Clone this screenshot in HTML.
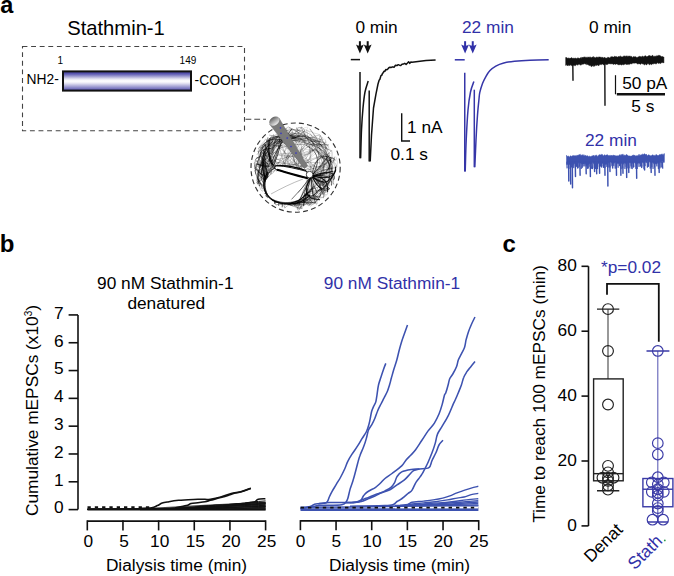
<!DOCTYPE html>
<html><head><meta charset="utf-8"><style>
html,body{margin:0;padding:0;background:#fff;}
svg{display:block;font-family:"Liberation Sans", sans-serif;}
</style></head><body>
<svg width="674" height="576" viewBox="0 0 674 576" font-family='"Liberation Sans", sans-serif'>
<text x="0.3" y="13.4" font-size="23.5" fill="#000" text-anchor="start" font-weight="bold" >a</text>
<text x="67.2" y="35.2" font-size="20.2" fill="#000" text-anchor="start" font-weight="normal" >Stathmin-1</text>
<rect x="22.5" y="46.5" width="222" height="84.3" fill="none" stroke="#444" stroke-width="1.1" stroke-dasharray="4.9 3.7"/>
<defs><linearGradient id="bg" x1="0" y1="0" x2="0" y2="1"><stop offset="0" stop-color="#4d49a8"/><stop offset="0.12" stop-color="#5955b0"/><stop offset="0.4" stop-color="#e6e5f3"/><stop offset="0.5" stop-color="#ffffff"/><stop offset="0.6" stop-color="#ecebf6"/><stop offset="0.86" stop-color="#8784c6"/><stop offset="1" stop-color="#524eab"/></linearGradient><linearGradient id="pg" x1="0" y1="0" x2="1" y2="0"><stop offset="0" stop-color="#5e5e5e"/><stop offset="0.45" stop-color="#8c8c8c"/><stop offset="1" stop-color="#5a5a5a"/></linearGradient><linearGradient id="cap" x1="0" y1="0" x2="0" y2="1"><stop offset="0" stop-color="#606060"/><stop offset="0.5" stop-color="#a8a8a8"/><stop offset="1" stop-color="#ececec"/></linearGradient></defs>
<rect x="63" y="71.4" width="128" height="19.2" fill="url(#bg)" stroke="#111" stroke-width="2"/>
<text x="57.6" y="64.0" font-size="10" fill="#000" text-anchor="start" font-weight="normal" >1</text>
<text x="179.6" y="64.2" font-size="10" fill="#000" text-anchor="start" font-weight="normal" >149</text>
<text x="26.6" y="83.9" font-size="13.8" fill="#000" text-anchor="start" font-weight="normal" >NH2-</text>
<text x="194.6" y="84.9" font-size="13.8" fill="#000" text-anchor="start" font-weight="normal" >-COOH</text>
<path d="M245.5,119.3 H266" stroke="#444" stroke-width="1.1" stroke-dasharray="5.8 3" fill="none"/>
<circle cx="295.6" cy="167.6" r="44.6" fill="none" stroke="#333" stroke-width="1.15" stroke-dasharray="5 3.2"/>
<g><path d="M263.8,177.4 C268.0,164.6 260.8,147.7 272.2,135.5" fill="none" stroke="#000" stroke-width="0.55" stroke-opacity="0.58"/><path d="M324.3,186.9 C330.5,178.8 331.5,168.6 334.5,157.1" fill="none" stroke="#000" stroke-width="0.9" stroke-opacity="0.35"/><path d="M275.2,138.0 C273.8,154.8 271.0,165.3 258.8,181.3" fill="none" stroke="#000" stroke-width="0.45" stroke-opacity="0.71"/><path d="M301.6,133.8 C291.6,133.8 280.7,133.4 271.9,140.2" fill="none" stroke="#000" stroke-width="0.7" stroke-opacity="0.39"/><path d="M264.5,188.2 C279.9,191.5 290.4,196.9 303.0,197.7" fill="none" stroke="#000" stroke-width="0.45" stroke-opacity="0.55"/><path d="M273.7,183.5 C258.0,170.4 270.5,154.6 282.4,144.9" fill="none" stroke="#000" stroke-width="0.45" stroke-opacity="0.74"/><path d="M263.5,173.7 C270.2,156.0 276.8,135.1 299.5,132.8" fill="none" stroke="#000" stroke-width="0.7" stroke-opacity="0.46"/><path d="M281.6,192.0 C297.8,191.7 317.0,193.1 331.8,176.6" fill="none" stroke="#000" stroke-width="0.55" stroke-opacity="0.57"/><path d="M264.7,178.2 C268.5,184.5 265.6,197.4 278.7,194.9" fill="none" stroke="#000" stroke-width="0.7" stroke-opacity="0.55"/><path d="M327.9,167.2 C332.0,161.9 320.5,160.0 331.4,150.6" fill="none" stroke="#000" stroke-width="0.55" stroke-opacity="0.48"/><path d="M258.9,181.7 C270.8,173.4 267.5,170.2 263.5,166.1" fill="none" stroke="#000" stroke-width="0.45" stroke-opacity="0.70"/><path d="M273.1,150.9 C272.0,134.5 287.6,142.1 296.4,132.2" fill="none" stroke="#000" stroke-width="0.55" stroke-opacity="0.40"/><path d="M281.6,202.5 C290.6,203.8 299.4,202.5 305.7,194.3" fill="none" stroke="#000" stroke-width="0.9" stroke-opacity="0.70"/><path d="M315.4,149.6 C328.2,157.2 324.5,171.1 319.0,182.5" fill="none" stroke="#000" stroke-width="0.9" stroke-opacity="0.42"/><path d="M294.3,198.3 C274.4,199.6 272.7,178.6 267.0,164.5" fill="none" stroke="#000" stroke-width="0.45" stroke-opacity="0.62"/><path d="M288.4,204.9 C308.0,197.3 319.7,183.7 322.7,167.2" fill="none" stroke="#000" stroke-width="0.7" stroke-opacity="0.38"/><path d="M276.9,187.8 C284.9,198.8 298.2,198.1 309.4,192.2" fill="none" stroke="#000" stroke-width="0.55" stroke-opacity="0.73"/><path d="M261.3,145.9 C278.5,128.9 299.8,143.5 321.8,141.1" fill="none" stroke="#000" stroke-width="0.9" stroke-opacity="0.42"/><path d="M333.9,184.8 C330.2,172.4 333.9,161.8 320.2,155.9" fill="none" stroke="#000" stroke-width="0.55" stroke-opacity="0.48"/><path d="M302.9,141.2 C314.9,150.9 336.4,162.3 325.5,182.9" fill="none" stroke="#000" stroke-width="0.45" stroke-opacity="0.45"/><path d="M316.6,143.3 C318.6,156.7 321.4,166.9 319.7,177.8" fill="none" stroke="#000" stroke-width="0.7" stroke-opacity="0.30"/><path d="M325.4,139.5 C327.6,159.0 328.0,175.2 323.1,192.5" fill="none" stroke="#000" stroke-width="0.45" stroke-opacity="0.37"/><path d="M284.6,195.2 C288.8,200.8 294.6,203.9 301.3,204.3" fill="none" stroke="#000" stroke-width="0.7" stroke-opacity="0.78"/><path d="M324.9,145.3 C311.2,145.1 307.7,127.3 294.7,138.4" fill="none" stroke="#000" stroke-width="0.9" stroke-opacity="0.36"/><path d="M258.9,168.0 C263.9,159.8 260.2,148.6 274.3,147.7" fill="none" stroke="#000" stroke-width="0.55" stroke-opacity="0.70"/><path d="M273.6,187.1 C266.0,176.9 254.0,162.8 271.6,152.9" fill="none" stroke="#000" stroke-width="0.45" stroke-opacity="0.52"/><path d="M322.0,159.0 C330.9,144.3 322.3,137.0 309.9,137.3" fill="none" stroke="#000" stroke-width="0.9" stroke-opacity="0.30"/><path d="M281.0,140.1 C295.5,138.0 312.4,135.6 328.3,145.9" fill="none" stroke="#000" stroke-width="0.7" stroke-opacity="0.38"/><path d="M262.9,152.0 C268.2,163.2 256.5,172.6 265.9,180.8" fill="none" stroke="#000" stroke-width="0.55" stroke-opacity="0.57"/><path d="M305.2,135.9 C283.8,132.4 263.1,144.0 259.5,168.0" fill="none" stroke="#000" stroke-width="0.55" stroke-opacity="0.61"/><path d="M307.3,203.1 C317.6,194.5 317.1,179.8 333.3,172.9" fill="none" stroke="#000" stroke-width="0.7" stroke-opacity="0.40"/><path d="M264.3,159.6 C256.0,182.1 280.7,188.6 295.6,206.3" fill="none" stroke="#000" stroke-width="0.9" stroke-opacity="0.83"/><path d="M317.5,190.9 C332.9,186.1 335.3,171.7 329.5,158.4" fill="none" stroke="#000" stroke-width="0.9" stroke-opacity="0.54"/><path d="M278.2,200.9 C300.7,204.1 321.9,195.5 334.1,174.5" fill="none" stroke="#000" stroke-width="0.9" stroke-opacity="0.48"/><path d="M325.6,163.9 C317.0,179.1 310.8,198.1 289.2,204.5" fill="none" stroke="#000" stroke-width="0.7" stroke-opacity="0.37"/><path d="M256.9,154.9 C267.6,137.1 288.2,135.9 304.2,139.4" fill="none" stroke="#000" stroke-width="0.7" stroke-opacity="0.30"/><path d="M284.6,141.4 C302.8,129.8 324.1,138.4 329.2,161.0" fill="none" stroke="#000" stroke-width="0.9" stroke-opacity="0.37"/><path d="M266.6,151.9 C255.0,166.7 263.9,182.9 274.9,195.8" fill="none" stroke="#000" stroke-width="0.7" stroke-opacity="0.57"/><path d="M283.9,196.2 C293.3,202.4 303.0,196.1 311.2,191.2" fill="none" stroke="#000" stroke-width="0.9" stroke-opacity="0.63"/><path d="M269.8,161.7 C267.4,148.0 278.0,140.9 287.7,126.8" fill="none" stroke="#000" stroke-width="0.45" stroke-opacity="0.59"/><path d="M254.8,169.9 C259.1,189.0 274.1,201.4 293.0,200.8" fill="none" stroke="#000" stroke-width="0.55" stroke-opacity="0.67"/><path d="M255.8,174.4 C253.3,166.5 261.9,160.0 258.2,150.8" fill="none" stroke="#000" stroke-width="0.9" stroke-opacity="0.51"/><path d="M268.1,142.5 C271.2,163.9 271.1,179.1 274.8,203.7" fill="none" stroke="#000" stroke-width="0.7" stroke-opacity="0.51"/><path d="M283.5,192.5 C277.4,186.8 265.6,184.1 258.5,174.5" fill="none" stroke="#000" stroke-width="0.55" stroke-opacity="0.62"/><path d="M286.0,137.1 C269.1,145.4 268.6,164.0 266.3,181.9" fill="none" stroke="#000" stroke-width="0.55" stroke-opacity="0.49"/><path d="M266.4,162.1 C258.1,182.0 270.1,201.1 292.6,205.3" fill="none" stroke="#000" stroke-width="0.7" stroke-opacity="0.64"/><path d="M326.7,142.1 C313.1,144.8 311.6,132.5 301.0,140.0" fill="none" stroke="#000" stroke-width="0.45" stroke-opacity="0.30"/><path d="M268.8,179.2 C274.3,201.4 296.5,193.5 317.4,196.3" fill="none" stroke="#000" stroke-width="0.7" stroke-opacity="0.69"/><path d="M327.2,147.9 C307.7,139.2 286.8,126.2 268.7,143.4" fill="none" stroke="#000" stroke-width="0.45" stroke-opacity="0.45"/><path d="M267.4,170.8 C267.5,166.7 255.4,160.5 268.2,158.4" fill="none" stroke="#000" stroke-width="0.45" stroke-opacity="0.77"/><path d="M271.7,154.5 C271.3,147.1 275.3,142.2 283.2,143.0" fill="none" stroke="#000" stroke-width="0.55" stroke-opacity="0.45"/><path d="M263.8,144.2 C266.5,151.9 259.3,154.0 267.4,161.5" fill="none" stroke="#000" stroke-width="0.55" stroke-opacity="0.54"/><path d="M270.9,148.5 C259.4,148.7 256.0,155.3 268.4,164.4" fill="none" stroke="#000" stroke-width="0.9" stroke-opacity="0.70"/><path d="M260.4,151.1 C262.4,141.6 271.1,137.4 282.6,140.4" fill="none" stroke="#000" stroke-width="0.9" stroke-opacity="0.58"/><path d="M321.2,196.0 C309.2,196.7 301.1,205.7 289.5,205.3" fill="none" stroke="#000" stroke-width="0.7" stroke-opacity="0.47"/><path d="M282.2,207.3 C283.5,189.5 276.9,190.3 264.5,193.5" fill="none" stroke="#000" stroke-width="0.7" stroke-opacity="0.84"/><path d="M277.5,197.0 C291.7,209.7 308.8,202.0 319.6,189.2" fill="none" stroke="#000" stroke-width="0.9" stroke-opacity="0.68"/><path d="M333.1,162.9 C326.5,159.1 318.5,157.6 321.1,151.6" fill="none" stroke="#000" stroke-width="0.9" stroke-opacity="0.30"/><path d="M336.0,170.3 C327.9,178.6 330.8,191.1 318.4,193.9" fill="none" stroke="#000" stroke-width="0.45" stroke-opacity="0.46"/><path d="M273.1,141.1 C255.6,153.7 264.5,173.8 268.7,192.5" fill="none" stroke="#000" stroke-width="0.9" stroke-opacity="0.76"/><path d="M261.5,173.7 C263.0,166.4 262.8,159.1 264.0,151.3" fill="none" stroke="#000" stroke-width="0.9" stroke-opacity="0.55"/><path d="M268.0,148.1 C270.2,133.8 283.5,132.3 295.4,137.3" fill="none" stroke="#000" stroke-width="0.45" stroke-opacity="0.51"/><path d="M331.6,170.8 C332.8,161.4 318.5,157.4 320.9,147.2" fill="none" stroke="#000" stroke-width="0.9" stroke-opacity="0.30"/><path d="M321.4,176.0 C314.9,193.9 296.0,201.1 271.8,200.4" fill="none" stroke="#000" stroke-width="0.55" stroke-opacity="0.73"/><path d="M322.8,175.6 C321.4,180.6 326.0,190.6 323.4,198.2" fill="none" stroke="#000" stroke-width="0.9" stroke-opacity="0.32"/><path d="M265.1,176.3 C268.3,182.9 275.9,185.7 279.8,191.3" fill="none" stroke="#000" stroke-width="0.7" stroke-opacity="0.67"/><path d="M271.0,138.0 C286.2,126.4 305.9,126.6 318.6,141.9" fill="none" stroke="#000" stroke-width="0.55" stroke-opacity="0.43"/><path d="M257.3,172.2 C265.5,159.5 272.1,149.9 277.2,136.6" fill="none" stroke="#000" stroke-width="0.55" stroke-opacity="0.62"/><path d="M268.0,137.0 C260.6,155.5 268.1,172.4 269.4,189.4" fill="none" stroke="#000" stroke-width="0.45" stroke-opacity="0.69"/><path d="M331.5,169.7 C329.7,160.6 318.4,156.3 316.2,149.2" fill="none" stroke="#000" stroke-width="0.55" stroke-opacity="0.30"/><path d="M263.5,157.0 C273.4,146.3 283.5,135.9 298.6,136.1" fill="none" stroke="#000" stroke-width="0.45" stroke-opacity="0.35"/><path d="M306.3,136.3 C294.8,135.8 285.6,142.5 269.9,139.6" fill="none" stroke="#000" stroke-width="0.7" stroke-opacity="0.30"/><path d="M287.3,199.4 C302.0,192.7 324.1,197.7 326.2,176.7" fill="none" stroke="#000" stroke-width="0.45" stroke-opacity="0.43"/><path d="M267.6,180.4 C270.1,168.0 269.6,156.6 269.5,139.4" fill="none" stroke="#000" stroke-width="0.45" stroke-opacity="0.66"/><path d="M285.3,138.9 C296.6,136.5 310.9,132.3 315.8,147.8" fill="none" stroke="#000" stroke-width="0.45" stroke-opacity="0.30"/><path d="M281.1,197.2 C273.9,188.4 267.8,179.8 256.8,169.7" fill="none" stroke="#000" stroke-width="0.55" stroke-opacity="0.67"/><path d="M323.1,183.7 C327.3,167.2 319.3,152.9 309.9,138.6" fill="none" stroke="#000" stroke-width="0.9" stroke-opacity="0.34"/><path d="M267.7,160.3 C255.7,179.5 275.8,189.6 289.1,205.2" fill="none" stroke="#000" stroke-width="0.45" stroke-opacity="0.55"/><path d="M260.6,157.6 C270.6,171.0 265.8,185.8 273.7,199.7" fill="none" stroke="#000" stroke-width="0.45" stroke-opacity="0.77"/><path d="M275.1,202.4 C286.0,203.0 295.7,194.5 303.1,193.9" fill="none" stroke="#000" stroke-width="0.9" stroke-opacity="0.73"/><path d="M296.7,205.8 C289.1,197.7 277.1,205.6 274.7,192.3" fill="none" stroke="#000" stroke-width="0.9" stroke-opacity="0.73"/><path d="M258.4,170.4 C269.1,185.9 278.5,204.4 300.1,208.0" fill="none" stroke="#000" stroke-width="0.45" stroke-opacity="0.75"/><path d="M309.8,128.8 C322.5,146.1 333.5,162.6 328.5,182.7" fill="none" stroke="#000" stroke-width="0.9" stroke-opacity="0.41"/><path d="M329.2,150.1 C310.9,140.0 293.4,140.3 269.2,135.1" fill="none" stroke="#000" stroke-width="0.9" stroke-opacity="0.30"/><path d="M262.6,161.5 C265.6,170.2 270.2,177.0 265.1,189.8" fill="none" stroke="#000" stroke-width="0.45" stroke-opacity="0.80"/><path d="M296.4,127.1 C299.8,141.8 303.8,141.2 307.1,143.6" fill="none" stroke="#000" stroke-width="0.55" stroke-opacity="0.30"/><path d="M268.8,148.2 C264.7,159.3 253.6,171.9 259.8,186.2" fill="none" stroke="#000" stroke-width="0.9" stroke-opacity="0.76"/><path d="M320.2,135.2 C325.4,149.4 337.2,160.1 326.4,174.0" fill="none" stroke="#000" stroke-width="0.55" stroke-opacity="0.31"/><path d="M264.3,190.5 C273.4,194.0 280.4,198.4 288.8,199.0" fill="none" stroke="#000" stroke-width="0.45" stroke-opacity="0.63"/><path d="M273.7,134.2 C271.2,145.3 270.1,154.0 256.2,158.2" fill="none" stroke="#000" stroke-width="0.55" stroke-opacity="0.51"/><path d="M269.6,182.8 C278.3,197.3 295.1,204.3 315.3,202.3" fill="none" stroke="#000" stroke-width="0.7" stroke-opacity="0.82"/><path d="M269.7,165.0 C254.7,170.0 256.1,176.3 259.2,182.1" fill="none" stroke="#000" stroke-width="0.7" stroke-opacity="0.53"/><path d="M267.8,143.1 C278.4,132.6 293.4,132.8 304.8,141.9" fill="none" stroke="#000" stroke-width="0.45" stroke-opacity="0.40"/><path d="M305.0,130.3 C293.3,143.0 282.2,138.3 272.4,144.1" fill="none" stroke="#000" stroke-width="0.7" stroke-opacity="0.40"/><path d="M278.7,206.0 C278.4,186.2 273.1,179.6 259.3,173.0" fill="none" stroke="#000" stroke-width="0.9" stroke-opacity="0.59"/><path d="M279.2,135.0 C269.6,149.7 257.6,163.7 271.6,178.2" fill="none" stroke="#000" stroke-width="0.45" stroke-opacity="0.51"/><path d="M256.6,178.1 C261.9,181.9 259.3,189.3 273.5,185.5" fill="none" stroke="#000" stroke-width="0.7" stroke-opacity="0.77"/><path d="M296.5,137.5 C281.4,131.7 274.0,145.9 268.4,157.1" fill="none" stroke="#000" stroke-width="0.9" stroke-opacity="0.59"/><path d="M291.1,140.5 C299.0,141.9 311.2,133.4 314.5,146.6" fill="none" stroke="#000" stroke-width="0.55" stroke-opacity="0.39"/><path d="M308.0,200.8 C301.5,195.5 297.1,194.7 292.9,194.9" fill="none" stroke="#000" stroke-width="0.9" stroke-opacity="0.51"/><path d="M301.0,127.1 C307.4,142.1 313.7,147.6 320.0,153.5" fill="none" stroke="#000" stroke-width="0.9" stroke-opacity="0.36"/><path d="M277.2,200.4 C290.3,197.5 302.0,206.9 313.0,198.9" fill="none" stroke="#000" stroke-width="0.45" stroke-opacity="0.57"/><path d="M293.2,203.9 C286.5,197.8 278.7,197.3 276.7,187.9" fill="none" stroke="#000" stroke-width="0.45" stroke-opacity="0.77"/><path d="M269.0,145.2 C274.7,140.7 283.9,143.4 288.3,136.8" fill="none" stroke="#000" stroke-width="0.55" stroke-opacity="0.52"/><path d="M260.6,151.8 C263.3,158.4 263.5,163.3 267.4,168.1" fill="none" stroke="#000" stroke-width="0.45" stroke-opacity="0.56"/><path d="M331.8,150.3 C333.8,162.4 323.9,172.6 324.8,183.4" fill="none" stroke="#000" stroke-width="0.45" stroke-opacity="0.38"/><path d="M262.5,154.4 C263.2,143.4 277.2,144.2 284.8,141.8" fill="none" stroke="#000" stroke-width="0.55" stroke-opacity="0.62"/><path d="M297.1,138.7 C289.1,142.9 282.3,146.9 268.5,145.8" fill="none" stroke="#000" stroke-width="0.55" stroke-opacity="0.33"/><path d="M282.9,201.1 C266.7,194.2 269.5,175.1 260.1,160.5" fill="none" stroke="#000" stroke-width="0.45" stroke-opacity="0.67"/><path d="M313.5,190.1 C305.6,195.1 296.5,202.9 285.2,200.3" fill="none" stroke="#000" stroke-width="0.45" stroke-opacity="0.56"/><path d="M288.3,126.9 C306.8,136.2 320.1,146.7 330.7,161.7" fill="none" stroke="#000" stroke-width="0.9" stroke-opacity="0.34"/><path d="M296.0,128.2 C307.6,137.8 318.0,143.8 331.6,151.0" fill="none" stroke="#000" stroke-width="0.7" stroke-opacity="0.32"/><path d="M264.9,162.7 C257.8,174.8 259.5,189.0 278.7,188.5" fill="none" stroke="#000" stroke-width="0.7" stroke-opacity="0.75"/><path d="M296.0,137.7 C287.9,139.8 273.8,132.3 266.0,141.4" fill="none" stroke="#000" stroke-width="0.9" stroke-opacity="0.57"/><path d="M283.8,134.9 C267.1,136.3 258.0,149.9 259.1,166.3" fill="none" stroke="#000" stroke-width="0.7" stroke-opacity="0.68"/><path d="M315.3,145.6 C309.1,134.9 297.7,125.6 284.4,131.4" fill="none" stroke="#000" stroke-width="0.55" stroke-opacity="0.30"/><path d="M314.1,185.9 C307.1,195.3 295.5,198.1 283.6,195.0" fill="none" stroke="#000" stroke-width="0.9" stroke-opacity="0.48"/><path d="M310.4,133.6 C315.9,145.4 324.6,151.7 324.9,162.8" fill="none" stroke="#000" stroke-width="0.7" stroke-opacity="0.30"/><path d="M255.5,168.0 C261.3,144.9 281.1,132.6 302.0,139.1" fill="none" stroke="#000" stroke-width="0.7" stroke-opacity="0.35"/><path d="M309.4,145.2 C324.4,142.8 328.0,153.8 331.6,164.5" fill="none" stroke="#000" stroke-width="0.55" stroke-opacity="0.32"/><path d="M308.7,201.6 C328.1,191.6 337.8,170.5 322.5,152.3" fill="none" stroke="#000" stroke-width="0.9" stroke-opacity="0.35"/><path d="M288.1,135.8 C294.2,126.4 300.0,141.5 306.0,140.8" fill="none" stroke="#000" stroke-width="0.7" stroke-opacity="0.41"/><path d="M311.8,202.7 C302.4,204.2 292.9,209.2 285.6,197.9" fill="none" stroke="#000" stroke-width="0.55" stroke-opacity="0.66"/><path d="M331.9,162.3 C323.3,143.4 302.6,142.8 286.1,138.7" fill="none" stroke="#000" stroke-width="0.9" stroke-opacity="0.45"/><path d="M318.3,154.6 C322.4,145.5 316.8,143.0 313.8,137.2" fill="none" stroke="#000" stroke-width="0.55" stroke-opacity="0.32"/><path d="M289.3,195.8 C302.5,191.2 323.9,195.6 332.1,177.2" fill="none" stroke="#000" stroke-width="0.45" stroke-opacity="0.44"/><path d="M276.8,149.5 C290.1,143.0 304.7,144.0 328.8,144.8" fill="none" stroke="#000" stroke-width="0.7" stroke-opacity="0.43"/><path d="M280.9,198.5 C292.6,208.4 306.7,203.6 317.0,194.1" fill="none" stroke="#000" stroke-width="0.55" stroke-opacity="0.63"/><path d="M265.9,147.7 C262.9,165.1 259.9,184.3 278.7,192.1" fill="none" stroke="#000" stroke-width="0.55" stroke-opacity="0.75"/><path d="M293.8,197.7 C276.7,205.5 276.6,183.9 267.6,176.1" fill="none" stroke="#000" stroke-width="0.55" stroke-opacity="0.68"/><path d="M279.8,198.5 C268.9,166.8 299.3,163.0 291.9,129.9" fill="none" stroke="#000" stroke-width="0.4" stroke-opacity="0.29"/><path d="M310.5,198.4 C290.9,162.9 272.4,179.1 265.5,146.9" fill="none" stroke="#000" stroke-width="0.4" stroke-opacity="0.54"/><path d="M292.9,130.5 C283.8,151.0 286.5,176.1 307.4,198.4" fill="none" stroke="#000" stroke-width="0.4" stroke-opacity="0.42"/><path d="M278.1,140.5 C270.2,172.8 286.3,135.2 323.2,179.6" fill="none" stroke="#000" stroke-width="0.4" stroke-opacity="0.29"/><path d="M296.5,140.5 C261.4,162.6 312.9,168.0 314.8,199.1" fill="none" stroke="#000" stroke-width="0.4" stroke-opacity="0.43"/><path d="M322.9,185.3 C320.7,163.5 289.0,134.0 255.8,170.7" fill="none" stroke="#000" stroke-width="0.4" stroke-opacity="0.46"/><path d="M284.6,204.7 C305.7,173.7 283.4,198.7 267.9,152.2" fill="none" stroke="#000" stroke-width="0.4" stroke-opacity="0.57"/><path d="M302.4,201.3 C294.1,145.6 322.7,151.5 254.8,164.1" fill="none" stroke="#000" stroke-width="0.4" stroke-opacity="0.57"/><path d="M313.2,203.5 C290.9,172.0 284.8,173.6 279.0,144.5" fill="none" stroke="#000" stroke-width="0.4" stroke-opacity="0.53"/><path d="M306.1,138.0 C297.0,148.5 271.8,168.9 310.1,198.9" fill="none" stroke="#000" stroke-width="0.4" stroke-opacity="0.31"/><path d="M264.0,170.2 C289.9,200.6 280.8,153.3 314.3,149.9" fill="none" stroke="#000" stroke-width="0.4" stroke-opacity="0.51"/><path d="M260.3,164.9 C300.9,171.7 292.1,139.5 319.8,152.5" fill="none" stroke="#000" stroke-width="0.4" stroke-opacity="0.30"/><path d="M297.1,194.5 C305.6,152.0 305.8,154.7 285.2,128.0" fill="none" stroke="#000" stroke-width="0.4" stroke-opacity="0.34"/><path d="M317.2,147.0 C285.0,168.3 286.8,166.8 284.1,200.4" fill="none" stroke="#000" stroke-width="0.4" stroke-opacity="0.32"/><path d="M265.0,186.8 C281.9,163.2 280.0,172.4 303.3,135.2" fill="none" stroke="#000" stroke-width="0.4" stroke-opacity="0.56"/><path d="M311.9,139.9 C280.0,165.8 308.5,177.3 299.8,194.5" fill="none" stroke="#000" stroke-width="0.4" stroke-opacity="0.46"/><path d="M319.1,196.1 C323.4,169.6 294.8,142.8 270.5,146.6" fill="none" stroke="#000" stroke-width="0.4" stroke-opacity="0.27"/><path d="M314.1,143.1 C298.3,151.6 298.4,155.1 295.6,194.6" fill="none" stroke="#000" stroke-width="0.4" stroke-opacity="0.53"/><path d="M319.6,190.1 C289.9,193.1 301.3,199.9 255.7,167.6" fill="none" stroke="#000" stroke-width="0.4" stroke-opacity="0.32"/><path d="M299.8,131.4 C294.5,135.4 302.3,149.5 321.0,189.2" fill="none" stroke="#000" stroke-width="0.4" stroke-opacity="0.34"/><path d="M319.5,136.0 C319.0,189.8 306.9,160.9 311.0,203.9" fill="none" stroke="#000" stroke-width="0.4" stroke-opacity="0.38"/><path d="M316.5,137.6 C301.0,170.3 288.3,182.1 312.8,202.8" fill="none" stroke="#000" stroke-width="0.4" stroke-opacity="0.35"/><path d="M309.6,135.2 C278.1,194.3 321.3,172.7 286.8,197.5" fill="none" stroke="#000" stroke-width="0.4" stroke-opacity="0.33"/><path d="M325.6,183.0 C302.1,170.4 277.6,171.6 276.5,196.7" fill="none" stroke="#000" stroke-width="0.4" stroke-opacity="0.59"/><path d="M268.6,191.4 C276.4,168.0 318.6,170.7 312.0,143.2" fill="none" stroke="#000" stroke-width="0.4" stroke-opacity="0.34"/><path d="M293.9,200.9 C300.7,167.0 266.5,158.5 259.4,150.9" fill="none" stroke="#000" stroke-width="0.4" stroke-opacity="0.52"/><path d="M330.0,186.3 C299.5,155.3 300.0,171.0 260.9,157.9" fill="none" stroke="#000" stroke-width="0.4" stroke-opacity="0.53"/><path d="M302.8,194.1 C303.5,180.3 285.1,140.4 269.7,156.7" fill="none" stroke="#000" stroke-width="0.4" stroke-opacity="0.35"/><path d="M264.9,185.8 C286.1,154.9 287.1,136.2 298.3,134.7" fill="none" stroke="#000" stroke-width="0.4" stroke-opacity="0.51"/><path d="M322.9,141.1 C284.2,195.9 270.3,165.4 266.4,193.7" fill="none" stroke="#000" stroke-width="0.4" stroke-opacity="0.26"/><path d="M272.0,145.0 C273.8,183.8 291.4,155.7 325.9,164.0" fill="none" stroke="#000" stroke-width="0.4" stroke-opacity="0.47"/><path d="M276.8,188.2 C301.7,188.7 319.3,192.7 306.7,130.5" fill="none" stroke="#000" stroke-width="0.4" stroke-opacity="0.47"/><path d="M316.2,188.4 C302.7,190.1 289.1,191.3 270.6,156.1" fill="none" stroke="#000" stroke-width="0.4" stroke-opacity="0.59"/><path d="M258.5,174.2 C294.1,180.6 295.2,192.6 328.3,144.8" fill="none" stroke="#000" stroke-width="0.4" stroke-opacity="0.39"/><path d="M283.8,142.8 C303.2,159.9 282.4,184.1 335.8,159.7" fill="none" stroke="#000" stroke-width="0.4" stroke-opacity="0.53"/><path d="M264.0,189.2 C298.9,173.8 266.7,179.1 325.4,142.9" fill="none" stroke="#000" stroke-width="0.4" stroke-opacity="0.48"/><path d="M300.8,198.7 C273.3,155.7 298.4,180.8 281.3,144.4" fill="none" stroke="#000" stroke-width="0.4" stroke-opacity="0.55"/><path d="M263.9,179.6 C308.9,155.5 313.8,193.4 328.7,146.4" fill="none" stroke="#000" stroke-width="0.4" stroke-opacity="0.34"/><path d="M267.1,154.4 C305.2,173.0 275.0,160.5 319.2,148.8" fill="none" stroke="#000" stroke-width="0.4" stroke-opacity="0.30"/><path d="M331.3,169.2 C290.8,175.4 304.5,134.0 271.5,174.5" fill="none" stroke="#000" stroke-width="0.4" stroke-opacity="0.39"/><path d="M328.9,174.4 C300.7,190.6 301.6,156.6 271.4,191.4" fill="none" stroke="#000" stroke-width="0.4" stroke-opacity="0.32"/><path d="M286.0,204.2 C301.6,165.4 316.8,141.9 269.2,146.0" fill="none" stroke="#000" stroke-width="0.4" stroke-opacity="0.44"/><path d="M284.1,145.0 C313.1,174.9 300.9,163.2 329.5,167.3" fill="none" stroke="#000" stroke-width="0.4" stroke-opacity="0.38"/><path d="M298.7,138.8 C281.4,167.9 271.2,162.5 329.3,188.7" fill="none" stroke="#000" stroke-width="0.4" stroke-opacity="0.53"/><path d="M299.3,135.1 C268.6,184.8 291.9,163.9 292.9,205.9" fill="none" stroke="#000" stroke-width="0.4" stroke-opacity="0.30"/><path d="M280.8,197.2 C319.4,166.8 281.9,172.0 297.9,138.3" fill="none" stroke="#000" stroke-width="0.4" stroke-opacity="0.27"/><path d="M278.9,143.6 C298.3,173.4 305.2,178.0 322.1,177.9" fill="none" stroke="#000" stroke-width="0.4" stroke-opacity="0.32"/><path d="M277.8,192.9 C312.4,169.9 303.0,170.1 278.0,145.9" fill="none" stroke="#000" stroke-width="0.4" stroke-opacity="0.58"/><path d="M309.2,146.2 C316.3,176.8 282.8,160.5 289.0,194.6" fill="none" stroke="#000" stroke-width="0.4" stroke-opacity="0.42"/><path d="M330.3,153.5 C298.4,161.1 270.3,188.2 278.8,203.0" fill="none" stroke="#000" stroke-width="0.4" stroke-opacity="0.56"/><path d="M300.0,142.8 C279.0,139.8 317.7,175.6 314.1,199.3" fill="none" stroke="#000" stroke-width="0.4" stroke-opacity="0.37"/><path d="M266.1,179.4 C303.4,163.8 294.0,140.3 324.4,139.1" fill="none" stroke="#000" stroke-width="0.4" stroke-opacity="0.40"/><path d="M263.3,174.3 C289.5,165.9 314.0,157.8 324.1,155.3" fill="none" stroke="#000" stroke-width="0.4" stroke-opacity="0.41"/><path d="M290.1,192.9 C281.2,164.1 294.6,191.3 266.9,158.2" fill="none" stroke="#000" stroke-width="0.4" stroke-opacity="0.32"/><path d="M270.3,172.6 C296.6,135.7 303.7,174.4 322.2,137.1" fill="none" stroke="#000" stroke-width="0.4" stroke-opacity="0.57"/><path d="M302.3,141.6 C295.4,180.4 298.0,173.2 318.9,180.6" fill="none" stroke="#000" stroke-width="0.4" stroke-opacity="0.37"/><path d="M267.5,164.5 C277.9,176.2 307.5,164.9 311.8,148.3" fill="none" stroke="#000" stroke-width="0.4" stroke-opacity="0.29"/><path d="M259.3,181.9 C288.9,167.7 319.4,143.0 315.5,150.7" fill="none" stroke="#000" stroke-width="0.4" stroke-opacity="0.27"/><path d="M321.6,157.6 C326.2,153.5 298.1,181.0 270.7,185.0" fill="none" stroke="#000" stroke-width="0.4" stroke-opacity="0.40"/><path d="M268.6,144.0 C288.0,168.1 283.4,150.6 318.8,144.9" fill="none" stroke="#000" stroke-width="0.4" stroke-opacity="0.36"/><path d="M335.68,156.51 C335.9,157.1 336.8,159.0 337.0,160.3 C337.3,161.6 337.6,163.2 337.3,164.4 C337.0,165.6 335.8,166.6 335.4,167.5 C335.0,168.4 335.3,169.2 335.0,170.0 C334.7,170.8 334.2,171.5 333.8,172.1 C333.4,172.7 332.9,173.1 332.5,173.8 C332.2,174.5 331.9,175.3 331.7,176.3 C331.5,177.3 331.3,178.9 331.3,179.8 C331.3,180.8 331.3,181.2 331.6,181.8 C332.0,182.5 333.8,183.2 333.4,183.6 C333.0,184.0 329.9,184.1 329.2,184.2" fill="none" stroke="#000" stroke-width="0.35" stroke-opacity="0.39"/><path d="M317.81,196.72 C317.6,197.1 316.9,198.1 316.7,198.8 C316.5,199.5 316.8,200.1 316.8,201.0 C316.8,201.9 317.2,203.7 316.9,204.1 C316.5,204.5 315.7,203.3 314.7,203.4 C313.6,203.5 311.6,204.4 310.6,204.4 C309.6,204.4 309.2,204.0 308.6,203.6 C307.9,203.2 307.1,202.6 306.4,202.1 C305.7,201.7 305.1,201.2 304.3,200.8 C303.6,200.4 302.8,200.2 302.0,199.7 C301.3,199.2 300.6,198.5 299.7,197.9 C298.8,197.4 297.0,196.8 296.5,196.6" fill="none" stroke="#000" stroke-width="0.45" stroke-opacity="0.58"/><path d="M285.57,203.84 C285.1,203.9 283.8,204.2 282.7,204.2 C281.5,204.3 279.6,204.2 278.5,204.2 C277.4,204.3 276.6,205.2 275.8,204.7 C275.1,204.1 274.5,201.8 274.2,200.8 C273.9,199.8 274.0,199.4 274.1,198.6 C274.2,197.7 274.8,196.6 274.7,195.5 C274.7,194.3 274.3,192.5 273.9,191.6 C273.5,190.7 272.6,190.5 272.3,190.3" fill="none" stroke="#000" stroke-width="0.55" stroke-opacity="0.69"/><path d="M273.03,201.33 C273.0,200.9 273.2,199.7 273.0,198.9 C272.7,198.2 272.1,197.7 271.5,197.0 C271.0,196.2 270.1,195.1 269.7,194.4 C269.2,193.6 269.2,193.0 268.8,192.4 C268.5,191.8 267.6,191.2 267.4,190.9" fill="none" stroke="#000" stroke-width="0.45" stroke-opacity="0.76"/><path d="M313.11,135.10 C313.6,135.2 315.1,135.6 316.2,135.8 C317.3,135.9 319.2,135.2 319.8,136.0 C320.4,136.8 319.7,139.3 319.9,140.5 C320.1,141.7 320.5,142.4 321.1,143.2 C321.6,143.9 323.0,144.7 323.4,145.0" fill="none" stroke="#000" stroke-width="0.35" stroke-opacity="0.31"/><path d="M337.02,168.54 C336.6,169.2 335.4,171.0 334.6,172.3 C333.9,173.5 333.0,174.9 332.5,175.9 C332.0,176.9 331.8,177.2 331.5,178.1 C331.2,178.9 331.4,179.9 330.8,180.9 C330.2,181.9 328.6,183.0 328.0,184.1 C327.5,185.1 327.8,185.8 327.5,187.1 C327.2,188.3 326.8,190.3 326.4,191.3 C326.0,192.4 325.8,192.7 325.0,193.1 C324.3,193.6 322.3,193.8 321.7,193.9" fill="none" stroke="#000" stroke-width="0.35" stroke-opacity="0.24"/><path d="M313.99,187.11 C313.7,187.5 313.1,188.5 312.4,189.2 C311.8,190.0 311.2,191.1 310.3,191.5 C309.3,192.0 307.7,191.7 306.8,192.0 C305.9,192.3 305.6,192.4 305.0,193.2 C304.3,194.1 303.8,196.1 303.0,197.0 C302.3,198.0 301.1,198.2 300.5,199.0 C299.8,199.9 299.3,201.1 299.1,202.2 C298.9,203.3 299.6,204.6 299.3,205.7 C299.0,206.8 297.5,208.3 297.2,208.8" fill="none" stroke="#000" stroke-width="0.35" stroke-opacity="0.42"/><path d="M300.78,206.39 C300.6,206.9 300.3,209.0 299.7,209.5 C299.1,210.1 297.8,210.3 297.4,209.6 C297.1,208.8 297.3,206.6 297.5,205.2 C297.7,203.7 298.5,202.3 298.4,201.1 C298.4,200.0 297.8,199.0 297.2,198.3 C296.6,197.6 296.0,197.2 295.0,196.9 C293.9,196.7 291.9,196.7 290.7,196.8 C289.4,196.9 288.7,197.4 287.5,197.5 C286.3,197.6 284.5,197.8 283.3,197.5 C282.1,197.2 281.6,196.3 280.5,195.5 C279.5,194.8 277.6,193.4 277.1,193.0" fill="none" stroke="#000" stroke-width="0.45" stroke-opacity="0.57"/><path d="M291.65,203.51 C291.2,203.7 289.7,204.3 288.8,204.9 C287.9,205.4 287.0,206.2 286.3,206.7 C285.6,207.2 284.9,208.2 284.7,208.1 C284.4,207.9 284.7,206.8 284.8,205.9 C284.9,205.0 285.2,203.6 285.2,202.6 C285.3,201.6 285.2,200.4 285.2,200.0" fill="none" stroke="#000" stroke-width="0.45" stroke-opacity="0.52"/><path d="M327.03,174.09 C326.6,174.2 325.1,174.8 324.2,175.0 C323.4,175.2 322.9,175.4 322.0,175.4 C321.2,175.5 320.3,175.1 319.1,175.2 C317.9,175.4 316.3,176.2 314.9,176.4 C313.5,176.7 312.1,176.2 310.8,176.5 C309.5,176.8 308.0,177.4 307.2,178.1 C306.4,178.7 306.2,179.2 306.0,180.2 C305.8,181.2 305.8,182.8 306.0,184.1 C306.1,185.4 306.4,187.0 306.9,188.1 C307.4,189.3 308.4,189.8 308.9,190.9 C309.4,192.1 309.6,194.0 309.7,195.2 C309.9,196.4 309.7,197.7 309.7,198.2" fill="none" stroke="#000" stroke-width="0.55" stroke-opacity="0.31"/><path d="M284.19,143.41 C284.7,143.5 285.9,143.3 287.0,143.7 C288.0,144.1 289.5,145.1 290.4,145.7 C291.2,146.3 291.5,146.6 292.0,147.2 C292.4,147.7 292.6,148.2 292.9,149.1 C293.2,149.9 293.9,151.2 293.9,152.3 C293.8,153.4 292.7,154.5 292.8,155.7 C292.8,157.0 294.0,158.5 294.3,159.8 C294.5,161.0 293.9,162.2 294.3,163.2 C294.7,164.3 296.4,165.7 296.8,166.2" fill="none" stroke="#000" stroke-width="0.55" stroke-opacity="0.38"/><path d="M266.82,138.67 C267.3,138.7 269.0,138.8 269.9,139.1 C270.9,139.3 271.6,140.0 272.5,140.4 C273.4,140.8 274.4,141.5 275.4,141.6 C276.3,141.8 277.3,141.3 278.1,141.3 C279.0,141.3 279.3,141.8 280.3,141.7 C281.3,141.5 282.9,140.6 284.1,140.3 C285.3,140.0 286.9,140.0 287.5,140.0" fill="none" stroke="#000" stroke-width="0.35" stroke-opacity="0.30"/><path d="M265.62,190.20 C265.7,189.8 266.0,188.7 266.1,187.7 C266.2,186.8 266.1,185.3 266.3,184.4 C266.6,183.5 266.9,183.0 267.5,182.4 C268.2,181.8 269.6,181.6 270.3,180.9 C271.0,180.2 271.2,179.1 271.6,178.1 C271.9,177.0 272.3,175.1 272.4,174.5" fill="none" stroke="#000" stroke-width="0.45" stroke-opacity="0.75"/><path d="M259.50,182.76 C259.0,182.4 256.6,181.3 256.4,180.5 C256.2,179.6 257.7,178.4 258.0,177.4 C258.3,176.4 258.4,175.5 258.2,174.5 C258.1,173.6 257.4,172.9 257.1,171.9 C256.8,170.9 256.6,169.8 256.2,168.7 C255.8,167.7 255.0,166.6 254.8,165.6 C254.6,164.6 254.8,163.7 254.9,162.7 C255.0,161.7 255.0,160.4 255.5,159.5 C255.9,158.7 256.8,158.2 257.6,157.7 C258.3,157.2 259.0,157.2 259.9,156.5 C260.7,155.9 261.8,154.5 262.6,153.8 C263.4,153.1 264.3,152.4 264.6,152.1" fill="none" stroke="#000" stroke-width="0.45" stroke-opacity="0.47"/><path d="M268.35,193.99 C267.8,193.5 265.8,191.9 265.2,190.9 C264.5,189.8 264.7,188.7 264.5,187.8 C264.3,186.9 263.9,186.1 263.9,185.3 C263.8,184.5 264.2,184.1 264.1,183.1 C264.1,182.0 264.1,180.1 263.5,179.0 C263.0,177.9 261.3,176.8 260.8,176.4" fill="none" stroke="#000" stroke-width="0.55" stroke-opacity="0.67"/><path d="M261.33,169.71 C261.4,169.3 261.6,168.2 262.0,167.6 C262.3,166.9 263.1,166.4 263.6,165.6 C264.0,164.7 264.1,163.2 264.4,162.3 C264.7,161.5 264.8,161.0 265.3,160.2 C265.9,159.5 266.7,158.4 267.8,157.8 C268.9,157.2 270.8,157.0 272.0,156.8 C273.1,156.7 273.9,156.5 274.9,156.9 C275.9,157.3 276.7,158.6 277.9,159.3 C279.0,159.9 280.7,160.2 281.7,160.8 C282.7,161.3 283.4,162.2 283.8,162.5" fill="none" stroke="#000" stroke-width="0.35" stroke-opacity="0.46"/><path d="M314.53,203.36 C314.2,203.6 313.3,204.1 312.6,204.6 C311.9,205.1 310.9,206.2 310.3,206.1 C309.7,206.0 309.5,204.8 308.9,203.8 C308.3,202.9 307.6,201.2 306.7,200.3 C305.7,199.3 304.0,199.0 303.1,198.2 C302.2,197.3 301.9,196.2 301.3,195.1 C300.7,194.1 300.1,192.8 299.5,191.7 C299.0,190.6 298.1,189.6 298.0,188.4 C297.8,187.2 298.5,185.2 298.6,184.5" fill="none" stroke="#000" stroke-width="0.35" stroke-opacity="0.46"/><path d="M260.73,184.79 C260.6,184.2 260.2,182.2 259.8,181.2 C259.5,180.2 259.0,179.7 258.7,178.9 C258.4,178.1 258.1,177.4 258.0,176.3 C257.9,175.2 258.5,173.3 258.3,172.1 C258.0,170.9 257.1,170.3 256.5,169.2 C255.9,168.1 255.1,166.4 254.7,165.3 C254.4,164.2 253.9,163.3 254.5,162.6 C255.0,161.8 257.7,160.9 258.3,160.6" fill="none" stroke="#000" stroke-width="0.35" stroke-opacity="0.77"/><path d="M326.70,165.41 C326.1,165.7 324.2,166.2 323.4,166.9 C322.5,167.5 321.9,168.2 321.5,169.3 C321.1,170.4 321.5,172.3 320.9,173.5 C320.2,174.7 318.7,176.0 317.6,176.6 C316.6,177.2 314.9,177.0 314.3,177.1" fill="none" stroke="#000" stroke-width="0.55" stroke-opacity="0.34"/><path d="M309.57,199.64 C308.9,199.7 306.4,199.6 305.4,199.8 C304.4,200.1 304.1,200.4 303.4,201.2 C302.8,201.9 301.8,203.1 301.5,204.4 C301.3,205.6 302.3,208.2 302.1,208.7 C301.9,209.2 300.8,207.9 300.5,207.2 C300.1,206.5 300.1,205.4 299.8,204.6 C299.4,203.9 298.9,203.1 298.1,202.5 C297.3,201.9 295.8,201.7 295.1,201.1 C294.3,200.6 294.4,200.0 293.7,199.2 C293.0,198.4 291.8,197.3 291.0,196.2 C290.2,195.2 289.2,194.0 288.9,192.9 C288.6,191.7 289.2,190.0 289.3,189.5" fill="none" stroke="#000" stroke-width="0.45" stroke-opacity="0.70"/><path d="M320.05,156.70 C320.4,157.0 321.2,157.8 322.3,158.3 C323.3,158.9 325.4,159.5 326.4,159.9 C327.5,160.2 327.8,160.5 328.8,160.4 C329.7,160.4 331.0,159.7 332.2,159.7 C333.4,159.8 335.3,160.6 336.0,160.8" fill="none" stroke="#000" stroke-width="0.35" stroke-opacity="0.33"/><path d="M321.97,167.71 C321.6,168.0 320.2,168.8 319.5,169.5 C318.8,170.1 318.0,170.6 317.7,171.7 C317.3,172.7 317.4,174.4 317.5,175.6 C317.7,176.8 318.3,177.9 318.6,178.9 C318.8,179.9 319.2,180.7 319.3,181.6 C319.4,182.6 319.1,183.6 319.4,184.8 C319.6,185.9 320.4,187.7 321.0,188.7 C321.5,189.6 321.9,189.8 322.7,190.2 C323.5,190.7 324.9,190.9 325.7,191.4 C326.5,192.0 327.8,192.6 327.7,193.4 C327.7,194.2 325.7,195.7 325.3,196.1" fill="none" stroke="#000" stroke-width="0.55" stroke-opacity="0.33"/><path d="M263.71,151.54 C263.4,151.2 262.8,150.1 262.0,149.4 C261.2,148.6 258.9,147.7 259.0,147.0 C259.1,146.4 261.7,146.0 262.7,145.7 C263.7,145.3 264.0,145.1 264.8,145.0 C265.6,145.0 266.5,145.3 267.4,145.2 C268.3,145.1 269.4,144.2 270.3,144.3 C271.2,144.3 271.9,145.0 273.0,145.3 C274.2,145.6 276.2,145.5 277.3,146.0 C278.3,146.5 278.9,147.8 279.2,148.2" fill="none" stroke="#000" stroke-width="0.55" stroke-opacity="0.37"/><path d="M301.99,136.55 C302.2,137.1 303.0,138.9 303.1,139.8 C303.2,140.6 303.2,141.1 302.5,141.8 C301.8,142.6 299.7,143.6 299.0,144.3 C298.3,145.1 298.9,145.7 298.3,146.3 C297.8,146.9 296.4,147.4 295.8,148.1 C295.2,148.7 295.0,149.1 294.8,150.0 C294.7,150.8 294.6,152.2 294.8,153.2 C295.0,154.2 295.4,155.1 295.8,155.8 C296.3,156.5 297.1,156.6 297.6,157.3 C298.1,158.0 298.3,159.2 298.9,159.8 C299.5,160.4 300.8,160.8 301.2,161.0" fill="none" stroke="#000" stroke-width="0.35" stroke-opacity="0.42"/><path d="M323.77,141.97 C323.9,142.6 324.6,144.7 324.5,145.7 C324.5,146.7 324.4,147.1 323.7,147.9 C322.9,148.7 321.3,150.0 320.1,150.6 C319.0,151.3 317.5,151.3 316.7,151.9 C315.8,152.5 315.5,153.4 314.9,154.1 C314.3,154.7 313.8,155.2 312.9,155.9 C312.1,156.7 310.9,157.7 309.9,158.6 C309.0,159.5 307.8,160.7 307.2,161.5 C306.5,162.3 306.6,162.9 306.2,163.5 C305.9,164.1 305.9,164.6 305.0,165.2 C304.1,165.7 302.1,166.6 300.8,166.6 C299.5,166.7 297.9,165.8 297.3,165.7" fill="none" stroke="#000" stroke-width="0.45" stroke-opacity="0.24"/><path d="M278.05,146.87 C278.5,146.3 280.1,144.1 280.7,143.2 C281.4,142.4 281.7,142.3 281.9,141.5 C282.2,140.7 282.1,139.4 282.3,138.4 C282.6,137.4 283.0,136.5 283.4,135.5 C283.9,134.5 284.7,133.4 285.0,132.5 C285.4,131.7 284.7,130.6 285.4,130.5 C286.1,130.4 288.4,131.4 289.2,131.9 C290.0,132.4 289.7,132.8 290.3,133.6 C290.9,134.5 292.4,136.2 293.0,137.1 C293.7,138.0 293.5,138.5 294.1,139.0 C294.7,139.5 295.6,139.9 296.7,140.1 C297.9,140.2 300.4,139.8 301.2,139.7" fill="none" stroke="#000" stroke-width="0.55" stroke-opacity="0.31"/><path d="M260.91,153.38 C260.7,153.0 260.2,152.2 259.8,151.3 C259.4,150.4 258.2,148.6 258.6,148.0 C258.9,147.3 260.8,147.9 262.0,147.5 C263.2,147.0 264.7,146.0 265.8,145.4 C267.0,144.8 267.9,144.1 269.1,143.6 C270.3,143.1 271.9,142.5 273.1,142.2 C274.3,142.0 275.0,142.0 276.2,141.9 C277.5,141.8 279.1,141.6 280.5,141.8 C281.9,142.0 283.4,143.0 284.6,143.3 C285.8,143.5 287.4,143.5 288.0,143.5" fill="none" stroke="#000" stroke-width="0.55" stroke-opacity="0.43"/><path d="M324.65,157.65 C325.2,157.9 326.6,158.4 327.8,158.9 C329.0,159.4 330.7,160.0 331.8,160.5 C332.9,161.0 334.1,160.9 334.5,161.6 C335.0,162.4 334.3,163.8 334.5,164.9 C334.6,166.0 335.4,167.6 335.5,168.2" fill="none" stroke="#000" stroke-width="0.45" stroke-opacity="0.32"/><path d="M325.02,178.48 C324.5,179.0 322.7,180.6 321.9,181.6 C321.2,182.6 320.7,183.3 320.5,184.4 C320.4,185.5 320.6,187.1 321.0,188.4 C321.4,189.6 322.5,190.9 322.9,192.0 C323.2,193.0 323.0,194.2 323.1,194.6" fill="none" stroke="#000" stroke-width="0.55" stroke-opacity="0.54"/><path d="M321.19,186.77 C321.2,187.3 321.1,188.8 321.4,190.0 C321.7,191.1 322.5,192.7 322.9,193.8 C323.3,194.9 324.2,195.8 324.0,196.5 C323.7,197.1 322.7,197.4 321.7,197.6 C320.7,197.8 318.9,198.1 317.7,197.7 C316.5,197.2 314.9,195.5 314.3,195.0" fill="none" stroke="#000" stroke-width="0.55" stroke-opacity="0.51"/><path d="M286.22,129.42 C286.7,129.3 288.4,128.6 289.3,128.5 C290.1,128.3 290.4,128.2 291.4,128.5 C292.4,128.8 294.3,129.7 295.4,130.4 C296.4,131.0 297.0,131.5 297.9,132.3 C298.7,133.1 299.3,134.2 300.3,135.1 C301.2,136.1 302.8,136.8 303.5,138.0 C304.3,139.2 304.8,141.5 305.0,142.2" fill="none" stroke="#000" stroke-width="0.45" stroke-opacity="0.20"/><path d="M335.55,163.11 C335.7,163.7 337.0,166.1 336.6,166.9 C336.1,167.7 334.2,167.7 332.9,168.0 C331.7,168.2 330.2,168.3 329.1,168.2 C327.9,168.2 327.0,167.8 326.0,167.7 C325.0,167.6 323.9,167.8 323.0,167.6 C322.2,167.5 322.0,167.0 321.2,166.9 C320.3,166.7 318.5,166.7 318.0,166.7" fill="none" stroke="#000" stroke-width="0.35" stroke-opacity="0.44"/><path d="M271.68,188.83 C270.9,188.8 268.6,188.4 267.2,188.5 C265.9,188.6 264.7,189.0 263.9,189.5 C263.0,190.0 262.8,191.4 262.3,191.3 C261.7,191.1 260.8,189.4 260.4,188.7 C260.0,187.9 260.3,187.6 259.7,186.7 C259.2,185.9 257.4,184.5 257.3,183.6 C257.2,182.8 258.7,181.8 259.0,181.4" fill="none" stroke="#000" stroke-width="0.35" stroke-opacity="0.54"/><path d="M285.18,207.61 C284.9,207.3 284.1,206.1 283.3,205.5 C282.5,204.9 281.2,204.3 280.4,203.9 C279.6,203.4 279.2,203.5 278.6,202.9 C278.0,202.2 277.5,201.0 276.8,200.0 C276.1,199.0 275.3,197.6 274.6,196.8 C273.9,196.1 273.3,195.9 272.6,195.4 C271.9,194.9 271.3,194.1 270.7,193.6 C270.0,193.2 269.6,192.7 268.8,192.6 C268.0,192.5 266.2,193.6 265.9,193.0 C265.6,192.3 266.5,189.9 266.8,188.7 C267.2,187.5 267.7,186.8 268.1,185.9 C268.4,185.1 268.7,183.9 268.8,183.5" fill="none" stroke="#000" stroke-width="0.35" stroke-opacity="0.65"/><path d="M319.65,190.74 C319.2,190.9 317.5,191.4 316.8,191.9 C316.2,192.4 316.0,192.8 315.8,193.8 C315.5,194.9 315.6,197.2 315.5,198.3 C315.4,199.4 315.6,199.9 315.0,200.7 C314.4,201.5 313.0,202.4 311.9,203.2 C310.8,204.1 309.3,205.8 308.3,205.6 C307.3,205.5 306.8,203.0 306.1,202.3 C305.4,201.6 305.1,201.5 304.1,201.6 C303.0,201.7 300.5,202.6 299.8,202.8" fill="none" stroke="#000" stroke-width="0.35" stroke-opacity="0.65"/><path d="M334.42,156.24 C334.3,156.8 334.2,158.2 333.8,159.3 C333.5,160.5 333.1,162.3 332.4,163.3 C331.7,164.2 330.5,164.6 329.6,164.9 C328.7,165.2 327.8,165.3 327.0,165.2 C326.1,165.1 325.2,164.9 324.5,164.4 C323.7,163.9 322.8,162.5 322.4,162.2" fill="none" stroke="#000" stroke-width="0.55" stroke-opacity="0.20"/><path d="M313.62,186.45 C313.3,187.0 312.3,188.7 311.4,189.6 C310.6,190.5 309.3,191.0 308.6,191.8 C307.9,192.5 308.1,193.2 307.3,194.0 C306.5,194.9 305.2,196.3 303.9,197.0 C302.7,197.6 300.4,197.7 299.7,197.8" fill="none" stroke="#000" stroke-width="0.45" stroke-opacity="0.55"/><path d="M285.75,195.42 C285.5,194.8 284.9,192.4 284.5,191.4 C284.0,190.5 283.7,190.3 283.1,189.9 C282.4,189.5 281.5,189.2 280.5,189.2 C279.5,189.2 277.9,189.4 276.9,189.8 C275.8,190.1 274.9,190.9 274.3,191.4 C273.6,192.0 273.8,192.6 273.1,193.1 C272.4,193.7 270.8,193.9 269.9,194.7 C269.0,195.5 268.5,197.9 267.9,198.0 C267.3,198.0 266.7,196.1 266.2,195.0 C265.7,194.0 265.4,192.7 265.1,191.5 C264.7,190.3 264.1,188.3 263.9,187.7" fill="none" stroke="#000" stroke-width="0.55" stroke-opacity="0.77"/><path d="M322.00,181.04 C322.0,181.6 321.9,183.5 322.2,184.7 C322.5,185.9 323.3,186.9 323.9,188.2 C324.4,189.5 325.8,191.5 325.5,192.4 C325.2,193.2 322.8,192.8 321.9,193.4 C321.0,194.0 320.8,195.3 320.2,195.9 C319.5,196.6 318.7,197.0 318.0,197.4 C317.2,197.8 316.7,197.9 315.7,198.5 C314.6,199.1 312.9,199.9 311.9,200.9 C310.9,201.9 310.5,204.1 309.6,204.5 C308.7,205.0 307.3,204.2 306.3,203.6 C305.2,203.0 304.2,201.7 303.2,200.9 C302.2,200.2 300.7,199.4 300.2,199.1" fill="none" stroke="#000" stroke-width="0.45" stroke-opacity="0.55"/><path d="M294.85,131.81 C295.5,131.6 297.9,131.0 299.0,130.3 C300.2,129.5 300.7,127.3 301.6,127.2 C302.5,127.2 303.8,129.0 304.3,129.9 C304.9,130.8 304.7,131.6 304.8,132.6 C304.9,133.6 304.9,134.9 305.0,135.9 C305.1,136.8 305.2,137.2 305.2,138.3 C305.2,139.4 305.0,141.4 304.8,142.5 C304.6,143.6 304.4,144.3 303.9,145.1 C303.4,145.9 302.3,146.4 301.8,147.3 C301.3,148.2 301.2,149.6 300.9,150.7 C300.7,151.8 300.4,153.4 300.3,154.0" fill="none" stroke="#000" stroke-width="0.55" stroke-opacity="0.45"/><path d="M326.12,171.95 C326.4,172.3 327.2,173.3 327.6,174.3 C328.0,175.3 328.6,176.8 328.7,177.9 C328.7,178.9 328.2,179.8 328.2,180.8 C328.1,181.7 328.5,182.8 328.6,183.6 C328.7,184.4 328.8,185.3 328.8,185.7" fill="none" stroke="#000" stroke-width="0.55" stroke-opacity="0.33"/><path d="M263.40,189.61 C263.1,189.4 262.3,189.0 261.9,188.2 C261.5,187.4 261.5,185.5 261.1,184.7 C260.6,183.8 259.8,183.4 259.1,183.1 C258.5,182.9 257.1,183.7 257.0,183.1 C256.9,182.6 258.2,180.8 258.5,179.8 C258.9,178.8 258.7,177.9 258.9,177.0 C259.2,176.1 259.6,175.4 259.8,174.2 C260.0,173.1 260.1,170.9 260.1,170.2" fill="none" stroke="#000" stroke-width="0.45" stroke-opacity="0.78"/><path d="M287.92,143.31 C288.6,143.7 290.7,145.1 291.8,145.5 C292.9,145.9 293.5,145.7 294.3,145.8 C295.1,146.0 296.0,146.0 296.6,146.5 C297.3,147.0 297.7,148.1 298.3,148.8 C298.9,149.6 299.8,150.1 300.3,151.2 C300.8,152.3 301.2,154.2 301.4,155.3 C301.5,156.4 301.2,156.7 301.4,157.8 C301.5,158.8 301.6,160.2 302.1,161.4 C302.7,162.6 304.1,164.3 304.5,164.9" fill="none" stroke="#000" stroke-width="0.35" stroke-opacity="0.49"/><path d="M269.65,171.03 C269.9,170.4 270.3,168.5 271.0,167.4 C271.6,166.3 272.7,165.2 273.4,164.6 C274.1,164.1 274.6,164.5 275.4,164.1 C276.3,163.8 277.5,162.9 278.5,162.5 C279.6,162.2 281.2,162.2 281.7,162.2" fill="none" stroke="#000" stroke-width="0.45" stroke-opacity="0.54"/><path d="M320.62,177.99 C320.7,178.3 320.7,179.2 321.2,180.0 C321.8,180.8 322.8,182.1 323.9,182.6 C324.9,183.2 326.8,183.2 327.7,183.3 C328.7,183.3 329.1,183.1 329.7,182.8 C330.4,182.5 330.7,181.9 331.4,181.7 C332.2,181.5 333.7,181.7 334.2,181.7" fill="none" stroke="#000" stroke-width="0.35" stroke-opacity="0.35"/><path d="M292.40,194.74 C292.2,194.4 291.5,193.7 290.9,192.8 C290.3,191.9 289.0,190.5 288.6,189.3 C288.1,188.0 288.4,186.6 288.3,185.3 C288.2,184.0 288.2,182.8 287.8,181.5 C287.3,180.3 286.4,178.9 285.8,178.0 C285.2,177.1 284.8,176.7 284.1,175.9 C283.4,175.2 282.1,174.6 281.7,173.5 C281.2,172.4 281.3,170.6 281.4,169.5 C281.5,168.4 282.2,167.9 282.5,167.0 C282.7,166.1 282.6,164.9 282.8,164.0 C283.0,163.2 283.2,162.9 283.5,162.1 C283.7,161.2 284.2,159.4 284.4,158.9" fill="none" stroke="#000" stroke-width="0.55" stroke-opacity="0.49"/><path d="M280.39,133.26 C280.8,133.0 282.3,132.2 283.1,131.4 C283.8,130.6 284.4,128.4 285.0,128.6 C285.6,128.7 286.2,131.5 286.8,132.3 C287.4,133.2 287.9,133.2 288.6,133.8 C289.2,134.3 289.9,135.0 290.7,135.7 C291.5,136.3 292.5,137.4 293.4,137.7 C294.3,138.0 294.9,137.8 296.1,137.7 C297.3,137.5 299.3,137.0 300.4,136.8 C301.5,136.6 301.7,136.2 302.7,136.4 C303.7,136.6 305.3,137.2 306.4,137.8 C307.6,138.4 308.4,139.3 309.5,140.1 C310.6,140.9 312.6,142.1 313.3,142.6" fill="none" stroke="#000" stroke-width="0.55" stroke-opacity="0.44"/><path d="M298.39,131.71 C299.0,131.5 301.0,130.8 302.0,130.2 C302.9,129.6 303.3,128.5 304.3,128.0 C305.3,127.5 307.7,126.9 307.9,127.5 C308.1,128.0 306.3,130.3 305.4,131.1 C304.4,132.0 302.9,131.7 302.1,132.4 C301.2,133.2 301.0,134.9 300.2,135.8 C299.4,136.6 297.6,137.1 297.1,137.3" fill="none" stroke="#000" stroke-width="0.45" stroke-opacity="0.20"/><path d="M274.77,203.40 C274.7,203.0 274.6,201.9 274.1,201.0 C273.5,200.1 272.3,198.7 271.5,198.0 C270.7,197.4 270.3,197.3 269.3,197.0 C268.3,196.6 265.7,196.6 265.6,196.0 C265.5,195.4 267.6,194.2 268.6,193.4 C269.7,192.7 271.4,191.8 272.0,191.5" fill="none" stroke="#000" stroke-width="0.55" stroke-opacity="0.79"/><path d="M325.91,159.42 C326.2,159.7 326.8,160.6 327.7,160.8 C328.6,161.1 330.4,160.6 331.4,160.8 C332.4,161.0 333.1,161.3 333.9,162.1 C334.6,162.8 336.0,164.4 335.8,165.2 C335.5,165.9 333.5,166.0 332.4,166.6 C331.3,167.1 330.0,167.5 329.2,168.3 C328.5,169.2 328.1,171.0 327.8,171.5" fill="none" stroke="#000" stroke-width="0.35" stroke-opacity="0.22"/><path d="M283.57,144.19 C283.9,143.5 284.8,141.2 285.4,140.2 C285.9,139.3 286.1,139.1 286.8,138.4 C287.5,137.7 288.4,136.7 289.5,136.0 C290.6,135.3 292.5,134.6 293.4,134.1 C294.3,133.6 294.3,133.4 294.9,132.8 C295.6,132.1 296.8,131.1 297.3,130.2 C297.7,129.4 297.2,128.1 297.8,127.6 C298.4,127.2 300.2,127.6 300.7,127.6" fill="none" stroke="#000" stroke-width="0.55" stroke-opacity="0.36"/><path d="M282.08,192.19 C281.7,192.1 281.0,192.1 280.1,191.7 C279.2,191.4 277.8,190.7 276.9,190.1 C275.9,189.5 275.1,188.8 274.4,188.3 C273.6,187.8 273.5,187.7 272.6,187.1 C271.8,186.4 270.3,184.8 269.2,184.3 C268.1,183.8 267.3,183.8 266.3,183.9 C265.3,183.9 263.8,184.4 263.3,184.6" fill="none" stroke="#000" stroke-width="0.35" stroke-opacity="0.59"/><path d="M298.23,129.67 C298.4,129.3 298.7,127.8 299.2,127.5 C299.7,127.2 300.6,127.4 301.3,127.7 C302.0,128.0 302.9,129.1 303.7,129.4 C304.4,129.7 304.9,129.2 305.8,129.5 C306.7,129.8 308.2,130.7 308.8,131.3 C309.5,131.9 309.6,132.8 309.8,133.1" fill="none" stroke="#000" stroke-width="0.45" stroke-opacity="0.20"/><path d="M309.95,198.06 C309.6,198.2 308.4,198.3 307.7,198.9 C306.9,199.4 306.0,200.6 305.4,201.3 C304.8,202.0 304.6,202.5 304.0,203.3 C303.5,204.0 302.6,204.9 302.0,205.8 C301.4,206.7 301.2,208.2 300.4,208.6 C299.5,208.9 297.5,208.0 296.9,207.9" fill="none" stroke="#000" stroke-width="0.45" stroke-opacity="0.47"/><path d="M326.10,154.48 C326.2,154.9 326.6,156.3 326.7,157.1 C326.8,158.0 327.0,158.5 326.8,159.5 C326.5,160.6 325.7,162.5 325.1,163.4 C324.5,164.2 323.9,164.2 323.2,164.6 C322.4,164.9 321.4,165.1 320.7,165.5 C319.9,165.9 319.3,166.8 318.6,167.0 C317.8,167.3 317.2,167.2 316.3,166.9 C315.4,166.7 314.1,166.1 313.0,165.5 C311.8,164.9 310.5,163.8 309.5,163.3 C308.5,162.8 307.8,162.7 307.0,162.4 C306.2,162.1 305.2,161.6 304.9,161.5" fill="none" stroke="#000" stroke-width="0.55" stroke-opacity="0.31"/><path d="M272.15,195.20 C272.5,194.6 273.5,192.8 274.3,191.7 C275.2,190.6 276.8,189.6 277.5,188.6 C278.1,187.6 278.0,186.6 278.3,185.7 C278.6,184.9 278.8,184.2 279.2,183.6 C279.5,182.9 280.0,182.5 280.7,182.0 C281.3,181.5 282.1,181.2 282.8,180.4 C283.6,179.7 284.6,178.7 285.1,177.8 C285.6,176.8 285.3,175.8 285.9,174.8 C286.6,173.7 288.5,172.1 289.0,171.5" fill="none" stroke="#000" stroke-width="0.45" stroke-opacity="0.51"/><path d="M259.41,166.20 C259.2,165.7 258.7,163.8 258.4,163.0 C258.0,162.2 257.8,161.7 257.3,161.3 C256.8,160.9 255.6,161.1 255.4,160.6 C255.3,160.1 255.8,158.8 256.5,158.1 C257.2,157.4 258.9,157.3 259.7,156.5 C260.5,155.7 261.1,154.2 261.4,153.1 C261.8,152.0 261.5,151.1 261.8,149.9 C262.1,148.8 262.8,147.1 263.5,146.2 C264.2,145.3 265.7,144.9 266.1,144.6" fill="none" stroke="#000" stroke-width="0.45" stroke-opacity="0.50"/><path d="M297.65,205.58 C297.3,205.1 295.9,203.5 295.6,202.6 C295.3,201.7 295.6,201.3 295.7,200.3 C295.9,199.3 296.2,197.9 296.4,196.6 C296.6,195.3 296.6,193.6 296.7,192.5 C296.8,191.4 296.8,190.9 297.1,190.0 C297.3,189.2 297.7,188.2 298.2,187.4 C298.6,186.5 299.5,185.3 299.8,184.9" fill="none" stroke="#000" stroke-width="0.35" stroke-opacity="0.69"/><path d="M257.35,177.57 C257.6,177.2 258.6,176.1 258.8,175.1 C259.1,174.0 259.1,172.4 258.8,171.5 C258.6,170.5 257.9,169.9 257.2,169.4 C256.6,169.0 255.3,169.5 254.9,168.9 C254.5,168.2 254.2,166.2 254.7,165.5 C255.3,164.8 257.1,164.7 258.1,164.6 C259.2,164.6 259.9,165.3 260.9,165.2 C262.0,165.1 263.1,164.2 264.4,164.0 C265.7,163.8 267.3,163.9 268.6,163.9 C269.9,163.9 271.0,163.7 272.1,164.1 C273.2,164.5 274.5,165.3 275.2,166.1 C275.8,166.8 275.9,168.2 276.1,168.7" fill="none" stroke="#000" stroke-width="0.55" stroke-opacity="0.67"/><path d="M269.55,181.05 C269.1,180.5 267.9,178.3 267.1,177.5 C266.4,176.7 265.6,176.7 264.8,176.2 C264.0,175.8 263.1,175.1 262.3,174.7 C261.6,174.4 260.9,174.6 260.2,173.9 C259.5,173.3 259.1,171.5 258.2,170.7 C257.3,170.0 255.2,169.9 254.9,169.3 C254.7,168.7 255.6,167.7 256.5,167.1 C257.3,166.6 258.8,166.0 260.0,166.0 C261.2,165.9 263.0,166.8 263.6,167.0" fill="none" stroke="#000" stroke-width="0.35" stroke-opacity="0.72"/><path d="M321.49,167.54 C321.2,168.2 320.0,170.2 319.5,171.4 C318.9,172.6 318.3,173.6 318.1,174.6 C317.9,175.5 318.1,176.2 318.5,177.1 C318.9,178.0 319.9,179.2 320.7,180.0 C321.5,180.8 322.4,180.9 323.0,181.8 C323.6,182.7 324.1,184.8 324.3,185.4" fill="none" stroke="#000" stroke-width="0.35" stroke-opacity="0.23"/><path d="M268.03,170.57 C267.8,170.2 267.2,169.2 266.7,168.6 C266.2,168.0 265.2,167.7 264.9,166.9 C264.5,166.2 265.0,165.2 264.4,164.3 C263.9,163.4 262.5,162.3 261.8,161.6 C261.0,160.9 260.9,161.0 260.1,160.2 C259.2,159.5 257.4,157.7 256.8,157.2" fill="none" stroke="#000" stroke-width="0.45" stroke-opacity="0.52"/><path d="M327.27,144.77 C327.5,145.1 328.0,146.1 328.5,146.9 C328.9,147.6 329.2,148.4 329.9,149.3 C330.5,150.2 331.8,151.4 332.2,152.4 C332.6,153.5 332.0,154.5 332.2,155.5 C332.5,156.5 333.4,157.8 333.7,158.3" fill="none" stroke="#000" stroke-width="0.35" stroke-opacity="0.20"/><path d="M288.98,127.48 C289.3,127.8 290.4,128.4 290.9,129.3 C291.4,130.1 291.7,131.4 292.0,132.4 C292.3,133.3 292.2,134.1 292.7,135.0 C293.2,135.8 294.4,136.4 294.9,137.4 C295.4,138.4 295.5,140.3 295.6,140.8" fill="none" stroke="#000" stroke-width="0.35" stroke-opacity="0.25"/><path d="M278.42,195.95 C278.2,195.7 277.5,194.7 276.8,194.3 C276.2,193.9 275.3,194.2 274.5,193.7 C273.7,193.3 272.7,192.4 272.0,191.6 C271.3,190.9 270.8,190.0 270.2,189.3 C269.6,188.7 268.8,188.6 268.4,187.7 C267.9,186.9 268.2,185.3 267.7,184.3 C267.2,183.2 266.0,182.4 265.2,181.4 C264.5,180.5 263.7,179.0 263.3,178.5" fill="none" stroke="#000" stroke-width="0.55" stroke-opacity="0.72"/><path d="M306.04,130.11 C306.5,130.3 307.9,130.9 308.8,131.2 C309.7,131.5 310.7,131.6 311.6,131.9 C312.5,132.2 313.1,132.8 314.2,133.1 C315.3,133.5 317.0,133.6 318.2,134.1 C319.3,134.7 320.4,135.6 321.1,136.4 C321.8,137.2 322.0,138.2 322.3,139.1 C322.6,140.0 322.6,140.9 322.9,141.7 C323.2,142.4 323.8,143.3 324.0,143.7" fill="none" stroke="#000" stroke-width="0.45" stroke-opacity="0.32"/><path d="M264.82,147.62 C265.3,147.2 267.2,145.9 268.0,145.3 C268.8,144.7 269.3,144.8 269.8,144.0 C270.3,143.1 270.3,141.4 271.0,140.4 C271.7,139.4 273.0,138.5 274.2,138.1 C275.4,137.6 277.1,138.1 278.2,138.0 C279.4,137.8 280.8,137.2 281.3,137.0" fill="none" stroke="#000" stroke-width="0.55" stroke-opacity="0.35"/><path d="M305.81,137.82 C306.2,137.7 307.0,137.3 307.9,137.2 C308.9,137.2 310.2,137.6 311.3,137.5 C312.4,137.3 313.4,136.8 314.3,136.6 C315.3,136.3 316.1,136.0 317.0,135.7 C318.0,135.4 319.4,134.6 320.0,134.8 C320.6,135.1 320.6,136.7 320.7,137.1" fill="none" stroke="#000" stroke-width="0.55" stroke-opacity="0.28"/><path d="M270.96,155.17 C271.3,154.6 272.2,152.9 272.7,152.0 C273.2,151.1 273.4,150.6 273.9,149.9 C274.4,149.1 275.2,148.5 275.6,147.7 C276.1,146.9 276.5,146.0 276.8,145.2 C277.0,144.4 277.0,143.7 277.0,143.0 C277.1,142.3 277.2,141.3 277.2,140.9" fill="none" stroke="#000" stroke-width="0.45" stroke-opacity="0.34"/><path d="M281.89,142.89 C282.5,142.9 284.6,142.5 285.7,142.8 C286.9,143.0 287.9,143.7 288.8,144.5 C289.7,145.4 290.2,146.7 291.0,147.8 C291.8,148.8 292.9,149.7 293.5,150.9 C294.2,152.1 294.9,153.6 294.9,154.9 C294.9,156.1 293.8,157.6 293.6,158.6 C293.5,159.6 293.7,160.1 294.2,160.9 C294.6,161.7 295.7,162.6 296.4,163.6 C297.0,164.5 297.4,165.9 298.1,166.6 C298.8,167.4 299.6,167.6 300.5,168.0 C301.5,168.4 303.0,169.0 303.5,169.2" fill="none" stroke="#000" stroke-width="0.35" stroke-opacity="0.37"/><path d="M323.15,180.43 C322.8,180.8 321.5,182.0 320.9,182.9 C320.4,183.8 320.1,184.7 319.9,185.8 C319.7,187.0 319.7,188.6 319.9,189.5 C320.2,190.5 320.5,190.9 321.2,191.5 C321.9,192.2 323.2,192.8 324.0,193.4 C324.7,193.9 325.9,194.5 325.5,194.7 C325.1,194.8 322.1,194.2 321.4,194.1" fill="none" stroke="#000" stroke-width="0.35" stroke-opacity="0.39"/><path d="M258.94,173.15 C259.1,172.8 259.8,171.6 259.8,170.8 C259.9,170.0 259.9,169.4 259.4,168.4 C259.0,167.4 257.6,165.9 257.3,164.8 C256.9,163.6 257.6,162.5 257.4,161.6 C257.2,160.6 255.7,159.8 256.0,159.1 C256.3,158.3 258.0,157.7 259.1,157.2 C260.3,156.7 261.8,156.6 263.0,156.3 C264.1,156.0 265.0,155.7 265.9,155.3 C266.9,155.0 267.7,154.7 268.7,154.3 C269.7,153.9 271.0,153.1 272.1,152.7 C273.1,152.4 274.0,152.5 274.9,152.4 C275.7,152.3 276.8,152.3 277.2,152.3" fill="none" stroke="#000" stroke-width="0.45" stroke-opacity="0.41"/><path d="M257.72,151.88 C258.0,151.6 258.9,150.6 259.4,149.9 C259.8,149.3 260.2,148.7 260.4,148.0 C260.7,147.3 260.5,146.4 260.7,145.7 C260.9,145.0 261.2,144.6 261.8,143.9 C262.3,143.1 263.6,142.1 264.2,141.3 C264.9,140.6 264.9,139.3 265.5,139.2 C266.1,139.2 267.4,140.4 268.0,141.1 C268.7,141.7 269.0,142.1 269.3,143.2 C269.6,144.2 269.5,146.3 269.8,147.5 C270.2,148.6 270.9,149.3 271.3,150.0 C271.8,150.8 272.4,151.6 272.6,151.9" fill="none" stroke="#000" stroke-width="0.35" stroke-opacity="0.59"/><path d="M265.04,177.13 C265.1,176.8 265.5,175.9 265.6,175.0 C265.7,174.2 265.5,173.0 265.5,172.2 C265.5,171.3 265.3,170.7 265.6,169.9 C265.8,169.2 266.3,168.1 267.0,167.5 C267.6,166.9 268.3,166.9 269.3,166.4 C270.3,165.8 272.1,165.1 273.0,164.3 C273.8,163.4 274.2,162.0 274.5,161.2 C274.9,160.3 274.8,160.0 275.0,159.0 C275.1,158.0 275.3,155.7 275.4,155.0" fill="none" stroke="#000" stroke-width="0.45" stroke-opacity="0.41"/><path d="M288.74,197.69 C288.1,197.5 285.9,196.8 284.8,196.8 C283.7,196.8 283.2,197.6 282.4,197.7 C281.5,197.9 280.3,197.7 279.5,197.9 C278.7,198.0 278.1,198.2 277.6,198.8 C277.0,199.4 276.6,200.6 276.1,201.4 C275.6,202.3 274.7,203.5 274.4,203.9" fill="none" stroke="#000" stroke-width="0.45" stroke-opacity="0.66"/><path d="M272.62,192.34 C272.3,192.2 271.2,191.8 270.6,191.4 C270.0,191.1 269.4,190.8 268.9,190.2 C268.4,189.7 268.4,189.0 267.6,188.3 C266.8,187.6 265.3,186.8 264.3,186.0 C263.3,185.2 262.2,183.9 261.4,183.4 C260.6,183.0 260.2,183.4 259.4,183.3 C258.7,183.2 257.3,183.5 257.0,183.0 C256.8,182.5 257.4,181.0 258.0,180.1 C258.6,179.2 260.0,178.5 260.6,177.6 C261.1,176.7 261.2,175.7 261.3,174.7 C261.3,173.7 260.7,172.8 261.0,171.7 C261.3,170.7 262.7,169.1 263.0,168.6" fill="none" stroke="#000" stroke-width="0.35" stroke-opacity="0.73"/><path d="M280.02,137.53 C280.7,137.6 282.8,137.6 284.1,137.7 C285.3,137.8 286.4,137.6 287.5,138.0 C288.5,138.4 289.5,139.7 290.3,140.1 C291.1,140.5 291.3,140.1 292.3,140.3 C293.3,140.6 295.7,141.2 296.4,141.3" fill="none" stroke="#000" stroke-width="0.45" stroke-opacity="0.29"/><path d="M323.48,191.41 C323.3,191.8 322.9,192.8 322.2,193.6 C321.4,194.4 320.0,195.8 319.0,196.4 C318.1,197.0 317.3,196.6 316.5,197.2 C315.7,197.9 314.9,199.5 314.2,200.2 C313.5,200.9 313.2,201.2 312.4,201.4 C311.5,201.6 310.1,201.1 309.1,201.4 C308.1,201.7 307.2,202.7 306.5,203.3 C305.8,203.9 306.0,204.5 305.0,205.0 C304.1,205.5 301.9,205.7 300.9,206.4 C299.9,207.0 299.7,208.7 298.8,208.7 C298.0,208.7 296.5,206.7 296.1,206.3" fill="none" stroke="#000" stroke-width="0.45" stroke-opacity="0.41"/><path d="M269.61,190.68 C269.2,190.1 267.7,188.3 267.3,187.0 C267.0,185.6 267.3,183.8 267.6,182.7 C267.8,181.6 268.5,181.4 268.8,180.5 C269.1,179.6 269.0,178.4 269.3,177.4 C269.6,176.3 270.2,175.4 270.5,174.1 C270.8,172.8 271.1,170.7 271.2,169.6 C271.2,168.6 271.0,167.9 270.9,167.6" fill="none" stroke="#000" stroke-width="0.35" stroke-opacity="0.48"/><path d="M336.86,165.09 C336.8,165.5 337.4,166.9 336.7,167.4 C335.9,167.9 333.7,168.0 332.5,168.1 C331.3,168.3 330.6,168.1 329.4,168.5 C328.3,168.9 326.6,169.8 325.6,170.3 C324.5,170.7 324.3,170.5 323.4,171.0 C322.4,171.5 321.0,172.6 319.7,173.1 C318.3,173.6 316.7,173.7 315.3,173.8 C314.0,173.9 312.2,173.8 311.6,173.8" fill="none" stroke="#000" stroke-width="0.35" stroke-opacity="0.41"/></g>
<ellipse cx="286" cy="186.3" rx="21.5" ry="16.5" fill="#fff"/>
<path d="M271,194 C280,189 292,183 303,179" fill="none" stroke="#555" stroke-width="0.4"/>
<g><path d="M311,176 Q321.8,176.5 332.1,171.2" fill="none" stroke="#000" stroke-width="0.8" stroke-opacity="0.84"/><path d="M311,176 Q306.6,191.6 303.5,206.2" fill="none" stroke="#000" stroke-width="0.8" stroke-opacity="0.87"/><path d="M311,176 Q312.5,185.4 312.7,194.9" fill="none" stroke="#000" stroke-width="0.6" stroke-opacity="0.52"/><path d="M311,176 Q309.4,186.3 305.5,196.5" fill="none" stroke="#000" stroke-width="0.4" stroke-opacity="0.76"/><path d="M311,176 Q320.1,182.8 328.8,187.6" fill="none" stroke="#000" stroke-width="0.8" stroke-opacity="0.79"/><path d="M311,176 Q307.1,187.5 296.8,204.0" fill="none" stroke="#000" stroke-width="0.8" stroke-opacity="0.74"/><path d="M311,176 Q320.8,169.6 332.6,168.3" fill="none" stroke="#000" stroke-width="0.8" stroke-opacity="0.53"/><path d="M311,176 Q313.2,185.4 317.4,193.7" fill="none" stroke="#000" stroke-width="0.8" stroke-opacity="0.69"/><path d="M311,176 Q316.9,183.2 326.2,187.6" fill="none" stroke="#000" stroke-width="0.6" stroke-opacity="0.68"/><path d="M311,176 Q321.0,167.7 329.3,155.0" fill="none" stroke="#000" stroke-width="0.8" stroke-opacity="0.65"/><path d="M311,176 Q320.8,166.8 332.7,157.7" fill="none" stroke="#000" stroke-width="0.6" stroke-opacity="0.74"/><path d="M311,176 Q303.0,190.8 303.3,205.4" fill="none" stroke="#000" stroke-width="0.8" stroke-opacity="0.66"/><path d="M311,176 Q317.7,169.7 326.1,158.3" fill="none" stroke="#000" stroke-width="0.6" stroke-opacity="0.63"/><path d="M311,176 Q311.8,185.6 312.7,195.4" fill="none" stroke="#000" stroke-width="0.4" stroke-opacity="0.64"/><path d="M311,176 Q304.4,185.3 298.1,192.7" fill="none" stroke="#000" stroke-width="0.4" stroke-opacity="0.71"/><path d="M311,176 Q302.2,190.0 298.4,206.7" fill="none" stroke="#000" stroke-width="0.8" stroke-opacity="0.55"/><path d="M311,176 Q323.0,175.3 334.9,178.3" fill="none" stroke="#000" stroke-width="0.4" stroke-opacity="0.84"/><path d="M311,176 Q303.8,187.3 291.5,199.4" fill="none" stroke="#000" stroke-width="0.8" stroke-opacity="0.68"/><path d="M311,176 Q321.9,169.3 330.0,159.7" fill="none" stroke="#000" stroke-width="0.4" stroke-opacity="0.60"/><path d="M311,176 Q322.3,172.5 333.4,171.4" fill="none" stroke="#000" stroke-width="0.8" stroke-opacity="0.89"/><path d="M311,176 Q316.3,185.1 324.3,192.7" fill="none" stroke="#000" stroke-width="0.6" stroke-opacity="0.54"/><path d="M311,176 Q318.2,185.1 322.0,191.8" fill="none" stroke="#000" stroke-width="0.4" stroke-opacity="0.59"/><path d="M311,176 Q310.5,188.7 315.4,203.0" fill="none" stroke="#000" stroke-width="0.8" stroke-opacity="0.70"/><path d="M311,176 Q318.4,178.3 326.9,185.3" fill="none" stroke="#000" stroke-width="0.8" stroke-opacity="0.50"/></g>
<g><path d="M312,176 C318.5,165.4 321.8,153.2 306.3,145.5" fill="none" stroke="#000" stroke-width="0.7" stroke-opacity="0.85" stroke-linecap="round"/><path d="M312,176 C320.4,183.2 326.4,192.7 314.7,202.8" fill="none" stroke="#000" stroke-width="0.7" stroke-opacity="0.85" stroke-linecap="round"/><path d="M312,176 C314.9,183.6 319.3,190.4 327.8,188.6" fill="none" stroke="#000" stroke-width="0.7" stroke-opacity="0.85" stroke-linecap="round"/><path d="M312,176 C304.8,186.1 301.8,198.7 319.5,199.7" fill="none" stroke="#000" stroke-width="1.2" stroke-opacity="0.85" stroke-linecap="round"/><path d="M312,176 C316.6,185.6 323.1,194.1 329.7,188.6" fill="none" stroke="#000" stroke-width="0.9" stroke-opacity="0.85" stroke-linecap="round"/><path d="M312,176 C324.1,178.7 336.7,178.9 335.6,167.1" fill="none" stroke="#000" stroke-width="1.2" stroke-opacity="0.85" stroke-linecap="round"/><path d="M312,176 C320.8,176.5 329.2,179.6 327.5,191.6" fill="none" stroke="#000" stroke-width="1.2" stroke-opacity="0.85" stroke-linecap="round"/><path d="M312,176 C322.4,174.4 333.1,175.3 331.5,185.2" fill="none" stroke="#000" stroke-width="0.7" stroke-opacity="0.85" stroke-linecap="round"/><path d="M312,176 C313.5,162.8 319.6,150.6 334.7,159.3" fill="none" stroke="#000" stroke-width="0.7" stroke-opacity="0.85" stroke-linecap="round"/><path d="M312,176 C324.4,171.7 337.6,170.2 333.6,180.0" fill="none" stroke="#000" stroke-width="0.9" stroke-opacity="0.85" stroke-linecap="round"/><path d="M312,176 C319.7,183.1 329.9,186.9 335.5,170.1" fill="none" stroke="#000" stroke-width="1.2" stroke-opacity="0.85" stroke-linecap="round"/><path d="M312,176 C322.3,175.5 332.3,171.9 330.0,157.4" fill="none" stroke="#000" stroke-width="0.9" stroke-opacity="0.85" stroke-linecap="round"/><path d="M271.3,164.1 Q275.1,149.9 291.9,128.8" fill="none" stroke="#000" stroke-width="0.9" stroke-opacity="0.8"/><path d="M269.4,166.4 Q263.4,166.4 256.8,164.0" fill="none" stroke="#000" stroke-width="0.9" stroke-opacity="0.8"/><path d="M272.7,164.7 Q266.2,148.9 270.3,137.9" fill="none" stroke="#000" stroke-width="0.9" stroke-opacity="0.8"/><path d="M272.6,165.2 Q261.3,148.9 262.8,146.5" fill="none" stroke="#000" stroke-width="0.7" stroke-opacity="0.8"/><path d="M271.2,166.7 Q278.7,155.6 280.5,131.7" fill="none" stroke="#000" stroke-width="0.7" stroke-opacity="0.8"/><path d="M274.9,167.8 Q271.3,162.0 264.7,143.8" fill="none" stroke="#000" stroke-width="0.9" stroke-opacity="0.8"/><path d="M273.0,167.7 Q266.6,154.8 268.3,139.8" fill="none" stroke="#000" stroke-width="0.9" stroke-opacity="0.8"/><path d="M273.6,165.9 Q283.2,141.3 281.9,131.1" fill="none" stroke="#000" stroke-width="0.9" stroke-opacity="0.8"/></g>
<path d="M274.5532850613796,167.0532850613796 C261.5532850613796,171.5532850613796 260.5532850613796,191.5532850613796 271.5532850613796,199.0532850613796 C282.5532850613796,205.5532850613796 299.5532850613796,204.5532850613796 308.5532850613796,193.5532850613796" fill="none" stroke="#000" stroke-width="0.5" stroke-opacity="0.6"/>
<path d="M275.52420233545956,168.02420233545956 C262.52420233545956,172.52420233545956 261.52420233545956,192.52420233545956 272.52420233545956,200.02420233545956 C283.52420233545956,206.52420233545956 300.52420233545956,205.52420233545956 309.52420233545956,194.52420233545956" fill="none" stroke="#000" stroke-width="0.7" stroke-opacity="0.6"/>
<path d="M275.57073152665834,168.07073152665834 C262.57073152665834,172.57073152665834 261.57073152665834,192.57073152665834 272.57073152665834,200.07073152665834 C283.57073152665834,206.57073152665834 300.57073152665834,205.57073152665834 309.57073152665834,194.57073152665834" fill="none" stroke="#000" stroke-width="0.9" stroke-opacity="0.6"/>
<path d="M274.0275406783462,166.52754067834624 C261.0275406783462,171.02754067834624 260.0275406783462,191.02754067834624 271.0275406783462,198.52754067834624 C282.0275406783462,205.02754067834624 299.0275406783462,204.02754067834624 308.0275406783462,193.02754067834624" fill="none" stroke="#000" stroke-width="0.9" stroke-opacity="0.6"/>
<path d="M275.06711830623703,167.56711830623706 C262.06711830623703,172.06711830623706 261.06711830623703,192.06711830623706 272.06711830623703,199.56711830623706 C283.06711830623703,206.06711830623706 300.06711830623703,205.06711830623706 309.06711830623703,194.06711830623706" fill="none" stroke="#000" stroke-width="0.7" stroke-opacity="0.6"/>
<path d="M268,172 C261,182 263,196 274,201 C286,206 302,205 310,195" fill="none" stroke="#000" stroke-width="1.0"/>
<path d="M276.5,165.5 C285,166 298,169 307,171.5 L307,178 C298,176 285,172 277,169.8 C274,169 274.5,165.8 276.5,165.5 Z" fill="#fff" stroke="#000" stroke-width="0.9"/>
<path d="M277,169.8 C285,172 298,176 308,178.2" fill="none" stroke="#000" stroke-width="2"/>
<path d="M275,166 C283,165 296,167 306,170.5" fill="none" stroke="#000" stroke-width="1.1"/>
<circle cx="309.6" cy="174.6" r="3.3" fill="#fff" stroke="#222" stroke-width="0.8"/>
<path d="M269.7,124.3 L278.9,117.9 L307.6,166.0 L304.2,168.4 Z" fill="#7a7a7a" stroke="#606060" stroke-width="0.5"/>
<ellipse cx="274.3" cy="121.1" rx="5.6" ry="4.0" transform="rotate(-35 274.3 121.1)" fill="url(#cap)"/>
<circle cx="280.5" cy="127.8" r="0.85" fill="#3636c8"/>
<circle cx="281" cy="133.3" r="0.85" fill="#3636c8"/>
<circle cx="287.2" cy="138" r="0.85" fill="#3636c8"/>
<circle cx="291" cy="146.5" r="0.85" fill="#3636c8"/>
<circle cx="296" cy="153" r="0.85" fill="#3636c8"/>
<text x="355.4" y="32.6" font-size="17.3" fill="#000" text-anchor="start" font-weight="normal" >0 min</text>
<path d="M359.9,41.2 V47.6" stroke="#111" stroke-width="2"/><path d="M356.0,44.6 Q359.9,47.0 363.79999999999995,44.6 L359.9,53.6 Z" fill="#111"/>
<path d="M367.7,41.2 V47.6" stroke="#111" stroke-width="2"/><path d="M363.8,44.6 Q367.7,47.0 371.59999999999997,44.6 L367.7,53.6 Z" fill="#111"/>
<path d="M350.8,59.6 H360" stroke="#111" stroke-width="1.5"/>
<path d="M360,71.9 V158.3" stroke="#111" stroke-width="1.5"/>
<path d="M360.60,158.30 C360.8,153.6 361.1,138.4 361.5,130.0 C361.9,121.6 362.4,114.3 363.0,108.0 C363.6,101.7 364.1,96.5 365.0,92.0 C365.9,87.5 367.7,82.8 368.2,81.0" fill="none" stroke="#111" stroke-width="1.5"/>
<path d="M369.2,90.6 V161.5" stroke="#111" stroke-width="1.5"/>
<path d="M370.20,161.50 L371.50,135.00 L373.50,108.00 L376.00,93.80 L378.00,84.00 L378.60,81.99 L379.20,79.98 L379.80,79.46 L380.40,77.50 L381.05,75.43 L381.70,75.33 L382.35,73.83 L383.00,73.00 L383.93,71.23 L384.85,71.42 L385.77,69.58 L386.70,69.80 L387.77,69.08 L388.85,67.70 L389.93,67.17 L391.00,67.50 L392.50,66.86 L394.00,67.27 L395.50,65.25 L397.00,65.60 L398.25,64.64 L399.50,65.18 L400.75,65.53 L402.00,64.20 L403.38,64.07 L404.75,63.37 L406.12,64.35 L407.50,63.00 L408.62,61.80 L409.75,63.39 L410.88,61.94 L412.00,62.20 L418.00,61.50 L426.00,60.60 L435.60,60.00" fill="none" stroke="#111" stroke-width="1.5" stroke-linejoin="round"/>
<path d="M401.7,113.3 V141 H410" fill="none" stroke="#111" stroke-width="1.4"/>
<text x="407.0" y="133.0" font-size="17.3" fill="#000" text-anchor="start" font-weight="normal" >1 nA</text>
<text x="390.5" y="160.2" font-size="17.3" fill="#000" text-anchor="start" font-weight="normal" >0.1 s</text>
<text x="462.0" y="32.5" font-size="17.3" fill="#3131a8" text-anchor="start" font-weight="normal" >22 min</text>
<path d="M465.1,41.2 V47.6" stroke="#3131a8" stroke-width="2"/><path d="M461.20000000000005,44.6 Q465.1,47.0 469.0,44.6 L465.1,53.6 Z" fill="#3131a8"/>
<path d="M472.75,41.2 V47.6" stroke="#3131a8" stroke-width="2"/><path d="M468.85,44.6 Q472.75,47.0 476.65,44.6 L472.75,53.6 Z" fill="#3131a8"/>
<path d="M454.8,59.8 H464.7" stroke="#3131a8" stroke-width="1.5"/>
<path d="M464.75,72.8 V171.5" stroke="#3636a8" stroke-width="1.5"/>
<path d="M465.20,171.50 C465.4,166.2 465.7,150.2 466.2,140.0 C466.7,129.8 467.3,118.0 468.0,110.0 C468.7,102.0 469.5,96.8 470.5,92.0 C471.5,87.2 473.3,83.2 473.9,81.5" fill="none" stroke="#3636a8" stroke-width="1.5"/>
<path d="M474.3,89.7 V167.2" stroke="#3636a8" stroke-width="1.5"/>
<path d="M474.80,167.20 C475.0,162.7 475.6,148.7 476.0,140.0 C476.4,131.3 477.0,121.7 477.5,115.0 C478.0,108.3 478.5,103.8 478.9,100.0 C479.3,96.2 479.2,95.2 479.8,92.4 C480.4,89.7 481.5,86.2 482.5,83.5 C483.5,80.8 484.8,78.6 486.0,76.4 C487.2,74.2 488.4,72.3 490.0,70.6 C491.6,68.9 493.5,67.4 495.8,66.1 C498.1,64.8 500.7,63.8 503.8,63.0 C506.9,62.2 510.1,61.7 514.5,61.2 C518.9,60.8 524.3,60.5 530.0,60.3 C535.7,60.1 545.6,59.9 548.7,59.8" fill="none" stroke="#3636a8" stroke-width="1.5"/>
<text x="589.0" y="32.7" font-size="17.3" fill="#000" text-anchor="start" font-weight="normal" >0 min</text>
<path d="M565.70,57.48 L566.30,57.49 L566.90,57.80 L567.50,58.56 L568.10,57.71 L568.70,58.32 L569.30,58.43 L569.90,58.09 L570.50,58.37 L571.10,57.71 L571.70,57.72 L572.30,57.94 L572.90,58.60 L573.50,58.24 L574.10,58.07 L574.70,58.44 L575.30,58.22 L575.90,57.98 L576.50,58.63 L577.10,58.45 L577.70,57.76 L578.30,58.17 L578.90,58.04 L579.50,58.46 L580.10,58.19 L580.70,57.50 L581.30,58.40 L581.90,57.12 L582.50,57.47 L583.10,57.87 L583.70,56.96 L584.30,57.36 L584.90,56.67 L585.50,57.49 L586.10,57.58 L586.70,57.26 L587.30,57.64 L587.90,56.82 L588.50,57.33 L589.10,57.16 L589.70,57.13 L590.30,56.95 L590.90,57.49 L591.50,57.64 L592.10,56.99 L592.70,57.28 L593.30,56.46 L593.90,57.39 L594.50,57.35 L595.10,57.87 L595.70,57.68 L596.30,56.97 L596.90,57.16 L597.50,57.60 L598.10,56.74 L598.70,57.41 L599.30,57.04 L599.90,57.01 L600.50,56.97 L601.10,58.00 L601.70,57.13 L602.30,57.32 L602.90,57.54 L603.50,58.22 L604.10,57.12 L604.70,57.64 L605.30,57.77 L605.90,58.22 L606.50,58.11 L607.10,58.14 L607.70,57.28 L608.30,57.43 L608.90,57.30 L609.50,57.98 L610.10,58.03 L610.70,56.83 L611.30,56.80 L611.90,56.81 L612.50,56.74 L613.10,57.02 L613.70,57.09 L614.30,56.57 L614.90,56.13 L615.50,56.65 L616.10,56.51 L616.70,56.73 L617.30,57.22 L617.90,56.80 L618.50,56.51 L619.10,56.62 L619.70,56.67 L620.30,55.77 L620.90,56.94 L621.50,56.76 L622.10,56.89 L622.70,56.79 L623.30,56.23 L623.90,56.26 L624.50,55.87 L625.10,56.64 L625.70,55.88 L626.30,55.92 L626.90,56.16 L627.50,56.14 L628.10,56.44 L628.70,56.08 L629.30,56.06 L629.90,56.31 L630.50,56.29 L631.10,56.70 L631.70,56.27 L632.30,57.49 L632.90,57.16 L633.50,56.53 L634.10,56.70 L634.70,56.85 L635.30,56.88 L635.90,56.54 L636.50,57.55 L637.10,57.74 L637.70,56.98 L638.30,56.98 L638.90,56.38 L639.50,56.37 L640.10,56.66 L640.70,56.49 L641.30,57.23 L641.90,56.23 L642.50,55.97 L643.10,57.20 L643.70,56.54 L644.30,55.93 L644.90,56.41 L645.50,55.62 L646.10,56.25 L646.70,56.81 L647.30,56.59 L647.90,56.29 L648.50,55.63 L649.10,55.72 L649.70,55.40 L650.30,56.20 L650.90,55.84 L651.50,56.15 L652.10,55.51 L652.70,55.34 L653.30,56.16 L653.90,56.41 L654.50,56.23 L655.10,56.18 L655.70,56.22 L656.30,56.14 L656.90,55.45 L657.50,55.90 L658.10,55.71 L658.70,55.30 L659.30,55.34 L659.90,55.74 L660.50,55.76 L661.10,56.41 L661.70,56.83 L662.30,56.16 L662.90,56.89 L663.50,57.00 L663.90,56.97 L663.90,62.95 L663.50,62.70 L662.90,62.66 L662.30,62.58 L661.70,62.56 L661.10,63.13 L660.50,63.52 L659.90,63.44 L659.30,62.96 L658.70,63.24 L658.10,63.49 L657.50,62.55 L656.90,63.43 L656.30,63.86 L655.70,63.77 L655.10,63.82 L654.50,63.53 L653.90,63.21 L653.30,64.17 L652.70,63.63 L652.10,64.37 L651.50,64.70 L650.90,63.97 L650.30,64.05 L649.70,64.87 L649.10,64.61 L648.50,63.86 L647.90,63.82 L647.30,63.86 L646.70,64.91 L646.10,64.76 L645.50,63.80 L644.90,64.71 L644.30,64.87 L643.70,64.36 L643.10,63.86 L642.50,64.06 L641.90,63.40 L641.30,63.15 L640.70,64.41 L640.10,63.88 L639.50,63.64 L638.90,64.14 L638.30,63.38 L637.70,63.94 L637.10,63.84 L636.50,62.95 L635.90,62.99 L635.30,63.05 L634.70,62.99 L634.10,63.50 L633.50,63.08 L632.90,63.35 L632.30,63.01 L631.70,64.17 L631.10,63.48 L630.50,63.71 L629.90,63.98 L629.30,64.53 L628.70,63.95 L628.10,64.74 L627.50,64.26 L626.90,64.39 L626.30,64.46 L625.70,63.84 L625.10,64.49 L624.50,64.19 L623.90,63.99 L623.30,65.13 L622.70,64.27 L622.10,64.70 L621.50,65.05 L620.90,64.79 L620.30,64.43 L619.70,64.66 L619.10,64.66 L618.50,64.91 L617.90,63.89 L617.30,64.45 L616.70,63.94 L616.10,63.90 L615.50,64.51 L614.90,64.06 L614.30,64.06 L613.70,64.27 L613.10,64.43 L612.50,63.72 L611.90,63.92 L611.30,63.75 L610.70,63.74 L610.10,64.00 L609.50,63.67 L608.90,63.81 L608.30,63.77 L607.70,64.47 L607.10,64.20 L606.50,64.52 L605.90,64.69 L605.30,63.83 L604.70,64.34 L604.10,64.98 L603.50,64.93 L602.90,64.05 L602.30,64.12 L601.70,64.66 L601.10,64.23 L600.50,64.54 L599.90,64.37 L599.30,65.26 L598.70,65.47 L598.10,65.66 L597.50,64.63 L596.90,65.42 L596.30,65.34 L595.70,64.71 L595.10,65.96 L594.50,66.26 L593.90,65.36 L593.30,66.50 L592.70,65.80 L592.10,65.95 L591.50,66.63 L590.90,66.35 L590.30,65.30 L589.70,65.52 L589.10,65.45 L588.50,64.98 L587.90,64.54 L587.30,64.45 L586.70,64.74 L586.10,63.49 L585.50,64.19 L584.90,64.03 L584.30,63.45 L583.70,63.92 L583.10,64.37 L582.50,64.27 L581.90,63.70 L581.30,65.07 L580.70,64.87 L580.10,65.22 L579.50,64.10 L578.90,64.42 L578.30,64.21 L577.70,65.34 L577.10,64.72 L576.50,64.62 L575.90,65.11 L575.30,65.87 L574.70,65.81 L574.10,65.08 L573.50,64.97 L572.90,66.07 L572.30,65.60 L571.70,65.79 L571.10,64.92 L570.50,64.85 L569.90,65.70 L569.30,65.29 L568.70,64.73 L568.10,65.88 L567.50,65.39 L566.90,65.54 L566.30,64.46 L565.70,65.46Z" fill="#111" stroke="#111" stroke-width="0.5" stroke-linejoin="round"/>
<path d="M572.8,62 L573.0,80.2" stroke="#111" stroke-width="1.4" stroke-linecap="round"/><path d="M604.8,62 L605.0,105.3" stroke="#111" stroke-width="1.4" stroke-linecap="round"/>
<path d="M615.5,75.2 V94.3" stroke="#111" stroke-width="1.2"/>
<path d="M616.8,94.3 H665" stroke="#111" stroke-width="2.4"/>
<text x="622.2" y="89.0" font-size="17.3" fill="#000" text-anchor="start" font-weight="normal" >50 pA</text>
<text x="631.3" y="111.6" font-size="17.3" fill="#000" text-anchor="start" font-weight="normal" >5 s</text>
<text x="585.0" y="146.2" font-size="17.3" fill="#3131a8" text-anchor="start" font-weight="normal" >22 min</text>
<path d="M566.50,155.21 L567.10,156.74 L567.70,156.10 L568.30,155.97 L568.90,156.43 L569.50,157.16 L570.10,156.01 L570.70,155.78 L571.30,156.49 L571.90,155.95 L572.50,155.68 L573.10,155.72 L573.70,155.45 L574.30,155.63 L574.90,155.73 L575.50,155.61 L576.10,156.31 L576.70,155.35 L577.30,155.62 L577.90,154.93 L578.50,155.14 L579.10,154.46 L579.70,154.80 L580.30,154.32 L580.90,155.58 L581.50,155.23 L582.10,154.59 L582.70,155.12 L583.30,155.99 L583.90,154.55 L584.50,155.91 L585.10,155.30 L585.70,155.50 L586.30,156.22 L586.90,155.52 L587.50,155.83 L588.10,156.25 L588.70,156.87 L589.30,155.80 L589.90,156.75 L590.50,156.57 L591.10,156.47 L591.70,156.06 L592.30,155.95 L592.90,155.40 L593.50,155.49 L594.10,155.31 L594.70,156.44 L595.30,155.47 L595.90,155.20 L596.50,154.95 L597.10,156.20 L597.70,156.14 L598.30,155.66 L598.90,154.86 L599.50,154.70 L600.10,154.71 L600.70,154.94 L601.30,154.35 L601.90,154.84 L602.50,154.50 L603.10,155.77 L603.70,155.82 L604.30,155.10 L604.90,154.62 L605.50,156.00 L606.10,154.91 L606.70,155.09 L607.30,154.55 L607.90,155.34 L608.50,155.61 L609.10,155.75 L609.70,155.29 L610.30,155.91 L610.90,155.07 L611.50,155.57 L612.10,155.28 L612.70,155.84 L613.30,155.18 L613.90,155.11 L614.50,155.56 L615.10,155.36 L615.70,155.91 L616.30,155.71 L616.90,156.00 L617.50,155.72 L618.10,155.71 L618.70,155.89 L619.30,154.90 L619.90,154.69 L620.50,155.78 L621.10,154.21 L621.70,155.18 L622.30,155.00 L622.90,153.90 L623.50,155.32 L624.10,155.44 L624.70,155.01 L625.30,155.25 L625.90,155.47 L626.50,154.34 L627.10,155.12 L627.70,155.19 L628.30,155.88 L628.90,155.93 L629.50,156.07 L630.10,155.72 L630.70,156.36 L631.30,156.05 L631.90,156.12 L632.50,155.31 L633.10,154.97 L633.70,155.15 L634.30,155.53 L634.90,155.02 L635.50,156.28 L636.10,155.70 L636.70,155.73 L637.30,155.63 L637.90,155.61 L638.50,155.15 L639.10,154.16 L639.70,155.48 L640.30,155.29 L640.90,154.75 L641.50,154.73 L642.10,154.88 L642.70,153.77 L643.30,154.94 L643.90,154.06 L644.50,153.75 L645.10,154.12 L645.70,155.00 L646.30,154.12 L646.90,155.16 L647.50,155.67 L648.10,154.90 L648.70,154.80 L649.30,155.08 L649.90,155.55 L650.50,155.79 L651.10,155.61 L651.70,155.73 L652.30,154.77 L652.90,154.94 L653.50,155.15 L654.10,156.04 L654.70,155.23 L655.30,155.67 L655.90,154.62 L656.50,154.64 L657.10,154.93 L657.70,155.55 L658.30,155.48 L658.90,155.34 L659.50,154.53 L660.10,154.83 L660.70,154.62 L661.30,154.53 L661.90,153.81 L662.50,155.13 L663.10,153.82 L663.70,155.18 L664.30,155.08 L664.40,153.43 L664.40,161.76 L664.30,162.40 L663.70,162.65 L663.10,161.73 L662.50,161.46 L661.90,161.45 L661.30,162.90 L660.70,161.72 L660.10,162.56 L659.50,161.95 L658.90,162.83 L658.30,163.78 L657.70,162.46 L657.10,163.84 L656.50,163.40 L655.90,164.16 L655.30,163.87 L654.70,163.02 L654.10,164.19 L653.50,163.37 L652.90,162.44 L652.30,162.27 L651.70,162.99 L651.10,162.75 L650.50,162.31 L649.90,161.86 L649.30,162.07 L648.70,161.89 L648.10,162.73 L647.50,161.15 L646.90,162.47 L646.30,162.63 L645.70,161.38 L645.10,162.92 L644.50,162.65 L643.90,163.13 L643.30,162.20 L642.70,162.52 L642.10,162.75 L641.50,164.02 L640.90,163.45 L640.30,163.19 L639.70,163.43 L639.10,163.25 L638.50,162.89 L637.90,163.00 L637.30,164.29 L636.70,163.24 L636.10,164.32 L635.50,162.95 L634.90,162.84 L634.30,163.11 L633.70,162.37 L633.10,162.53 L632.50,163.42 L631.90,163.15 L631.30,162.91 L630.70,162.51 L630.10,162.97 L629.50,163.02 L628.90,162.35 L628.30,162.73 L627.70,161.63 L627.10,162.99 L626.50,162.65 L625.90,163.37 L625.30,163.36 L624.70,162.89 L624.10,162.64 L623.50,164.38 L622.90,163.07 L622.30,163.79 L621.70,163.62 L621.10,163.56 L620.50,164.34 L619.90,164.72 L619.30,163.34 L618.70,163.93 L618.10,163.15 L617.50,163.45 L616.90,162.99 L616.30,162.41 L615.70,162.24 L615.10,162.18 L614.50,163.32 L613.90,162.49 L613.30,161.94 L612.70,163.16 L612.10,163.35 L611.50,162.42 L610.90,161.96 L610.30,162.19 L609.70,162.16 L609.10,162.79 L608.50,162.52 L607.90,162.97 L607.30,163.18 L606.70,163.90 L606.10,164.61 L605.50,164.47 L604.90,163.94 L604.30,163.98 L603.70,164.17 L603.10,163.86 L602.50,163.71 L601.90,163.11 L601.30,163.36 L600.70,164.44 L600.10,162.76 L599.50,163.27 L598.90,163.33 L598.30,163.60 L597.70,162.31 L597.10,162.31 L596.50,162.21 L595.90,162.46 L595.30,162.55 L594.70,163.52 L594.10,163.42 L593.50,163.58 L592.90,162.20 L592.30,162.39 L591.70,163.79 L591.10,164.31 L590.50,163.73 L589.90,164.10 L589.30,163.19 L588.70,164.01 L588.10,165.05 L587.50,164.92 L586.90,164.98 L586.30,165.16 L585.70,163.78 L585.10,163.43 L584.50,163.38 L583.90,163.89 L583.30,164.02 L582.70,164.31 L582.10,163.75 L581.50,163.46 L580.90,163.54 L580.30,162.88 L579.70,162.98 L579.10,162.02 L578.50,163.36 L577.90,162.41 L577.30,163.73 L576.70,163.35 L576.10,162.87 L575.50,162.72 L574.90,163.12 L574.30,164.00 L573.70,164.29 L573.10,163.41 L572.50,163.48 L571.90,164.43 L571.30,164.62 L570.70,164.33 L570.10,164.05 L569.50,164.71 L568.90,163.59 L568.30,164.02 L567.70,164.18 L567.10,164.93 L566.50,164.20Z" fill="#3d52b0" stroke="#3d52b0" stroke-width="0.5" stroke-linejoin="round"/>
<path d="M568.6,162 L568.8000000000001,181" stroke="#3d52b0" stroke-width="1.45" stroke-linecap="round"/><path d="M570.5,162 L570.7,184" stroke="#3d52b0" stroke-width="1.45" stroke-linecap="round"/><path d="M572.3,162 L572.5,187.8" stroke="#3d52b0" stroke-width="1.45" stroke-linecap="round"/><path d="M575.3,162 L575.5,176.6" stroke="#3d52b0" stroke-width="1.45" stroke-linecap="round"/><path d="M579.9,162 L580.1,175.3" stroke="#3d52b0" stroke-width="1.45" stroke-linecap="round"/><path d="M582,162 L582.2,167.4" stroke="#3d52b0" stroke-width="1.45" stroke-linecap="round"/><path d="M586,162 L586.2,173.7" stroke="#3d52b0" stroke-width="1.45" stroke-linecap="round"/><path d="M590.2,162 L590.4000000000001,176.6" stroke="#3d52b0" stroke-width="1.45" stroke-linecap="round"/><path d="M594.4,162 L594.6,171.6" stroke="#3d52b0" stroke-width="1.45" stroke-linecap="round"/><path d="M596.5,162 L596.7,173.7" stroke="#3d52b0" stroke-width="1.45" stroke-linecap="round"/><path d="M599.4,162 L599.6,173.2" stroke="#3d52b0" stroke-width="1.45" stroke-linecap="round"/><path d="M604.8,162 L605.0,175.3" stroke="#3d52b0" stroke-width="1.45" stroke-linecap="round"/><path d="M607.7,162 L607.9000000000001,186.1" stroke="#3d52b0" stroke-width="1.45" stroke-linecap="round"/><path d="M609.8,162 L610.0,171.6" stroke="#3d52b0" stroke-width="1.45" stroke-linecap="round"/><path d="M612.5,162 L612.7,168" stroke="#3d52b0" stroke-width="1.45" stroke-linecap="round"/><path d="M616.3,162 L616.5,175.3" stroke="#3d52b0" stroke-width="1.45" stroke-linecap="round"/><path d="M620.7,162 L620.9000000000001,175.3" stroke="#3d52b0" stroke-width="1.45" stroke-linecap="round"/><path d="M622.8,162 L623.0,173.2" stroke="#3d52b0" stroke-width="1.45" stroke-linecap="round"/><path d="M626.5,162 L626.7,177.4" stroke="#3d52b0" stroke-width="1.45" stroke-linecap="round"/><path d="M628.6,162 L628.8000000000001,172.4" stroke="#3d52b0" stroke-width="1.45" stroke-linecap="round"/><path d="M633.2,162 L633.4000000000001,167" stroke="#3d52b0" stroke-width="1.45" stroke-linecap="round"/><path d="M636.5,162 L636.7,178.2" stroke="#3d52b0" stroke-width="1.45" stroke-linecap="round"/><path d="M641.5,162 L641.7,167.4" stroke="#3d52b0" stroke-width="1.45" stroke-linecap="round"/><path d="M644.4,162 L644.6,169.9" stroke="#3d52b0" stroke-width="1.45" stroke-linecap="round"/><path d="M648,162 L648.2,166" stroke="#3d52b0" stroke-width="1.45" stroke-linecap="round"/><path d="M651,162 L651.2,172.4" stroke="#3d52b0" stroke-width="1.45" stroke-linecap="round"/><path d="M654.8,162 L655.0,175.3" stroke="#3d52b0" stroke-width="1.45" stroke-linecap="round"/><path d="M659,162 L659.2,172.4" stroke="#3d52b0" stroke-width="1.45" stroke-linecap="round"/><path d="M577.5,162 L577.7,168" stroke="#3d52b0" stroke-width="1.45" stroke-linecap="round"/><path d="M588,162 L588.2,168" stroke="#3d52b0" stroke-width="1.45" stroke-linecap="round"/><path d="M601.5,162 L601.7,167" stroke="#3d52b0" stroke-width="1.45" stroke-linecap="round"/><path d="M631,162 L631.2,166" stroke="#3d52b0" stroke-width="1.45" stroke-linecap="round"/><path d="M662,162 L662.2,167" stroke="#3d52b0" stroke-width="1.45" stroke-linecap="round"/>
<path d="M566.8983213559117,162 L567.0983213559117,167.87371836563435" stroke="#3d52b0" stroke-width="1.2" stroke-linecap="round"/><path d="M568.6361548524525,162 L568.8361548524525,168.51584090808657" stroke="#3d52b0" stroke-width="1.2" stroke-linecap="round"/><path d="M570.1919188597919,162 L570.391918859792,168.45143998932934" stroke="#3d52b0" stroke-width="1.2" stroke-linecap="round"/><path d="M571.2232041826268,162 L571.4232041826268,166.98999249400993" stroke="#3d52b0" stroke-width="1.2" stroke-linecap="round"/><path d="M573.5546853735985,162 L573.7546853735986,167.57671857003817" stroke="#3d52b0" stroke-width="1.2" stroke-linecap="round"/><path d="M575.1207203934005,162 L575.3207203934005,165.86225908689005" stroke="#3d52b0" stroke-width="1.2" stroke-linecap="round"/><path d="M576.3752552382257,162 L576.5752552382257,166.28903306438346" stroke="#3d52b0" stroke-width="1.2" stroke-linecap="round"/><path d="M578.0350086873888,162 L578.2350086873888,167.3366118013699" stroke="#3d52b0" stroke-width="1.2" stroke-linecap="round"/><path d="M579.2104913516711,162 L579.4104913516711,166.19353536148432" stroke="#3d52b0" stroke-width="1.2" stroke-linecap="round"/><path d="M581.0235858928088,162 L581.2235858928088,168.43230518978737" stroke="#3d52b0" stroke-width="1.2" stroke-linecap="round"/><path d="M583.0125803613033,162 L583.2125803613034,166.01073347954573" stroke="#3d52b0" stroke-width="1.2" stroke-linecap="round"/><path d="M584.6377175931449,162 L584.8377175931449,165.9440557388765" stroke="#3d52b0" stroke-width="1.2" stroke-linecap="round"/><path d="M586.0939620163729,162 L586.2939620163729,165.90543754416086" stroke="#3d52b0" stroke-width="1.2" stroke-linecap="round"/><path d="M587.201419889762,162 L587.401419889762,168.2884951831177" stroke="#3d52b0" stroke-width="1.2" stroke-linecap="round"/><path d="M588.9675651059961,162 L589.1675651059961,166.18953974151916" stroke="#3d52b0" stroke-width="1.2" stroke-linecap="round"/><path d="M591.1859368870607,162 L591.3859368870608,168.29170484939777" stroke="#3d52b0" stroke-width="1.2" stroke-linecap="round"/><path d="M592.2314441341975,162 L592.4314441341976,168.57672956464026" stroke="#3d52b0" stroke-width="1.2" stroke-linecap="round"/><path d="M594.0313787750966,162 L594.2313787750967,167.6690575272019" stroke="#3d52b0" stroke-width="1.2" stroke-linecap="round"/><path d="M595.3638236116269,162 L595.563823611627,168.5111232034816" stroke="#3d52b0" stroke-width="1.2" stroke-linecap="round"/><path d="M597.3525135528855,162 L597.5525135528856,168.59300579941504" stroke="#3d52b0" stroke-width="1.2" stroke-linecap="round"/><path d="M599.1149933420611,162 L599.3149933420611,166.45612447313238" stroke="#3d52b0" stroke-width="1.2" stroke-linecap="round"/><path d="M600.2889519477778,162 L600.4889519477779,166.0310593828152" stroke="#3d52b0" stroke-width="1.2" stroke-linecap="round"/><path d="M601.7165615276325,162 L601.9165615276326,165.70844708280217" stroke="#3d52b0" stroke-width="1.2" stroke-linecap="round"/><path d="M603.4410872806155,162 L603.6410872806156,167.42995199170448" stroke="#3d52b0" stroke-width="1.2" stroke-linecap="round"/><path d="M604.8027064954994,162 L605.0027064954994,167.6693895985526" stroke="#3d52b0" stroke-width="1.2" stroke-linecap="round"/><path d="M606.6703174893022,162 L606.8703174893022,166.49186538113003" stroke="#3d52b0" stroke-width="1.2" stroke-linecap="round"/><path d="M608.6548144597176,162 L608.8548144597177,167.03838459721612" stroke="#3d52b0" stroke-width="1.2" stroke-linecap="round"/><path d="M609.8526344846772,162 L610.0526344846772,167.03989883595796" stroke="#3d52b0" stroke-width="1.2" stroke-linecap="round"/><path d="M611.7637353073127,162 L611.9637353073127,165.68240297451453" stroke="#3d52b0" stroke-width="1.2" stroke-linecap="round"/><path d="M613.5800796505154,162 L613.7800796505154,165.5731698024087" stroke="#3d52b0" stroke-width="1.2" stroke-linecap="round"/><path d="M614.999836017833,162 L615.199836017833,168.20361884604202" stroke="#3d52b0" stroke-width="1.2" stroke-linecap="round"/><path d="M616.0144540283028,162 L616.2144540283028,168.0207625727374" stroke="#3d52b0" stroke-width="1.2" stroke-linecap="round"/><path d="M617.8929475806735,162 L618.0929475806736,167.351260252982" stroke="#3d52b0" stroke-width="1.2" stroke-linecap="round"/><path d="M619.2072627094556,162 L619.4072627094556,165.6495267798366" stroke="#3d52b0" stroke-width="1.2" stroke-linecap="round"/><path d="M620.9447355903608,162 L621.1447355903608,168.55657567869173" stroke="#3d52b0" stroke-width="1.2" stroke-linecap="round"/><path d="M622.5572173364104,162 L622.7572173364105,167.91835651984422" stroke="#3d52b0" stroke-width="1.2" stroke-linecap="round"/><path d="M624.743724255678,162 L624.943724255678,168.51454025416865" stroke="#3d52b0" stroke-width="1.2" stroke-linecap="round"/><path d="M625.8755054504425,162 L626.0755054504425,166.63533825618532" stroke="#3d52b0" stroke-width="1.2" stroke-linecap="round"/><path d="M627.6197614565544,162 L627.8197614565545,167.9819296470368" stroke="#3d52b0" stroke-width="1.2" stroke-linecap="round"/><path d="M628.8864422952518,162 L629.0864422952518,167.8948737807509" stroke="#3d52b0" stroke-width="1.2" stroke-linecap="round"/><path d="M631.037781342073,162 L631.237781342073,168.25102182140026" stroke="#3d52b0" stroke-width="1.2" stroke-linecap="round"/><path d="M632.0293052639543,162 L632.2293052639543,168.52656059213498" stroke="#3d52b0" stroke-width="1.2" stroke-linecap="round"/><path d="M633.6729438913375,162 L633.8729438913375,166.5903697136135" stroke="#3d52b0" stroke-width="1.2" stroke-linecap="round"/><path d="M635.688662030474,162 L635.888662030474,168.4378789937066" stroke="#3d52b0" stroke-width="1.2" stroke-linecap="round"/><path d="M637.0719676213006,162 L637.2719676213006,168.45743238216892" stroke="#3d52b0" stroke-width="1.2" stroke-linecap="round"/><path d="M638.8361152296785,162 L639.0361152296786,166.4998411818973" stroke="#3d52b0" stroke-width="1.2" stroke-linecap="round"/><path d="M640.2534399885307,162 L640.4534399885307,166.06792888161596" stroke="#3d52b0" stroke-width="1.2" stroke-linecap="round"/><path d="M641.6625569857764,162 L641.8625569857765,165.9763777427944" stroke="#3d52b0" stroke-width="1.2" stroke-linecap="round"/><path d="M643.751339669879,162 L643.9513396698791,168.68952580651745" stroke="#3d52b0" stroke-width="1.2" stroke-linecap="round"/><path d="M644.9292235715396,162 L645.1292235715397,165.65536692335505" stroke="#3d52b0" stroke-width="1.2" stroke-linecap="round"/><path d="M647.1893592870274,162 L647.3893592870274,167.20729837235467" stroke="#3d52b0" stroke-width="1.2" stroke-linecap="round"/><path d="M648.3247104169835,162 L648.5247104169836,166.25947713233373" stroke="#3d52b0" stroke-width="1.2" stroke-linecap="round"/><path d="M650.0751681765546,162 L650.2751681765546,168.1441456377556" stroke="#3d52b0" stroke-width="1.2" stroke-linecap="round"/><path d="M651.5645320811924,162 L651.7645320811924,166.8496233021171" stroke="#3d52b0" stroke-width="1.2" stroke-linecap="round"/><path d="M652.8445657848063,162 L653.0445657848063,168.43142191501437" stroke="#3d52b0" stroke-width="1.2" stroke-linecap="round"/><path d="M654.4261769759754,162 L654.6261769759755,167.07940543494666" stroke="#3d52b0" stroke-width="1.2" stroke-linecap="round"/><path d="M656.6707434249345,162 L656.8707434249345,165.91782984689" stroke="#3d52b0" stroke-width="1.2" stroke-linecap="round"/><path d="M658.1853315387013,162 L658.3853315387014,168.53935540039006" stroke="#3d52b0" stroke-width="1.2" stroke-linecap="round"/><path d="M659.704319434741,162 L659.9043194347411,168.02163055929714" stroke="#3d52b0" stroke-width="1.2" stroke-linecap="round"/><path d="M660.8853044877577,162 L661.0853044877578,166.8905766099214" stroke="#3d52b0" stroke-width="1.2" stroke-linecap="round"/><path d="M662.5193962756322,162 L662.7193962756322,168.20314847041715" stroke="#3d52b0" stroke-width="1.2" stroke-linecap="round"/>
<text x="-0.3" y="252.2" font-size="24" fill="#000" text-anchor="start" font-weight="bold" >b</text>
<text x="165.3" y="289.0" font-size="17.3" fill="#000" text-anchor="middle" font-weight="normal" >90 nM Stathmin-1</text>
<text x="166.3" y="309.1" font-size="17.3" fill="#000" text-anchor="middle" font-weight="normal" >denatured</text>
<text x="392.0" y="289.1" font-size="17.3" fill="#3131a8" text-anchor="middle" font-weight="normal" >90 nM Stathmin-1</text>
<path d="M78,314.93000000000006 V509.6" stroke="#111" stroke-width="1.6" fill="none"/>
<path d="M68.6,509.60 H78" stroke="#111" stroke-width="1.6"/>
<text x="63.5" y="513.4" font-size="17.3" fill="#000" text-anchor="end" font-weight="normal" >0</text>
<path d="M68.6,481.79 H78" stroke="#111" stroke-width="1.6"/>
<text x="63.5" y="485.59000000000003" font-size="17.3" fill="#000" text-anchor="end" font-weight="normal" >1</text>
<path d="M68.6,453.98 H78" stroke="#111" stroke-width="1.6"/>
<text x="63.5" y="457.78000000000003" font-size="17.3" fill="#000" text-anchor="end" font-weight="normal" >2</text>
<path d="M68.6,426.17 H78" stroke="#111" stroke-width="1.6"/>
<text x="63.5" y="429.97" font-size="17.3" fill="#000" text-anchor="end" font-weight="normal" >3</text>
<path d="M68.6,398.36 H78" stroke="#111" stroke-width="1.6"/>
<text x="63.5" y="402.16" font-size="17.3" fill="#000" text-anchor="end" font-weight="normal" >4</text>
<path d="M68.6,370.55 H78" stroke="#111" stroke-width="1.6"/>
<text x="63.5" y="374.3500000000001" font-size="17.3" fill="#000" text-anchor="end" font-weight="normal" >5</text>
<path d="M68.6,342.74 H78" stroke="#111" stroke-width="1.6"/>
<text x="63.5" y="346.54" font-size="17.3" fill="#000" text-anchor="end" font-weight="normal" >6</text>
<path d="M68.6,314.93 H78" stroke="#111" stroke-width="1.6"/>
<text x="63.5" y="318.7300000000001" font-size="17.3" fill="#000" text-anchor="end" font-weight="normal" >7</text>
<text transform="translate(38.2,410.5) rotate(-90)" font-size="17.3" text-anchor="middle">Cumulative mEPSCs (x10<tspan font-size="10" dy="-6.3">3</tspan><tspan dy="6.3">)</tspan></text>
<path d="M87.3,521.1 H265.59999999999997" stroke="#111" stroke-width="1.6" fill="none"/><path d="M87.30,520.3000000000001 V530.4" stroke="#111" stroke-width="1.6"/><text x="88.40" y="546.6" font-size="17.3" fill="#000" text-anchor="middle" font-weight="normal" >0</text><path d="M122.96,520.3000000000001 V530.4" stroke="#111" stroke-width="1.6"/><text x="124.06" y="546.6" font-size="17.3" fill="#000" text-anchor="middle" font-weight="normal" >5</text><path d="M158.62,520.3000000000001 V530.4" stroke="#111" stroke-width="1.6"/><text x="159.72" y="546.6" font-size="17.3" fill="#000" text-anchor="middle" font-weight="normal" >10</text><path d="M194.28,520.3000000000001 V530.4" stroke="#111" stroke-width="1.6"/><text x="195.38" y="546.6" font-size="17.3" fill="#000" text-anchor="middle" font-weight="normal" >15</text><path d="M229.94,520.3000000000001 V530.4" stroke="#111" stroke-width="1.6"/><text x="231.04" y="546.6" font-size="17.3" fill="#000" text-anchor="middle" font-weight="normal" >20</text><path d="M265.60,520.3000000000001 V530.4" stroke="#111" stroke-width="1.6"/><text x="266.70" y="546.6" font-size="17.3" fill="#000" text-anchor="middle" font-weight="normal" >25</text><text x="176.45" y="571.0" font-size="17.3" fill="#000" text-anchor="middle" font-weight="normal" >Dialysis time (min)</text>
<path d="M300.4,520.9 H478.69999999999993" stroke="#111" stroke-width="1.6" fill="none"/><path d="M300.40,520.1 V530.1999999999999" stroke="#111" stroke-width="1.6"/><text x="300.60" y="546.6" font-size="17.3" fill="#000" text-anchor="middle" font-weight="normal" >0</text><path d="M336.06,520.1 V530.1999999999999" stroke="#111" stroke-width="1.6"/><text x="336.26" y="546.6" font-size="17.3" fill="#000" text-anchor="middle" font-weight="normal" >5</text><path d="M371.72,520.1 V530.1999999999999" stroke="#111" stroke-width="1.6"/><text x="371.92" y="546.6" font-size="17.3" fill="#000" text-anchor="middle" font-weight="normal" >10</text><path d="M407.38,520.1 V530.1999999999999" stroke="#111" stroke-width="1.6"/><text x="407.58" y="546.6" font-size="17.3" fill="#000" text-anchor="middle" font-weight="normal" >15</text><path d="M443.04,520.1 V530.1999999999999" stroke="#111" stroke-width="1.6"/><text x="443.24" y="546.6" font-size="17.3" fill="#000" text-anchor="middle" font-weight="normal" >20</text><path d="M478.70,520.1 V530.1999999999999" stroke="#111" stroke-width="1.6"/><text x="478.90" y="546.6" font-size="17.3" fill="#000" text-anchor="middle" font-weight="normal" >25</text><text x="399.55" y="571.0" font-size="17.3" fill="#000" text-anchor="middle" font-weight="normal" >Dialysis time (min)</text>
<path d="M87.5,509.3 H265.6" stroke="#111" stroke-width="2.2"/>
<path d="M87.30,509.40 L144.36,509.20 L151.49,509.45 L158.62,509.12 L165.75,508.90 L172.88,508.82 L180.02,509.17 L187.15,508.93 L194.28,508.61 L201.41,508.36 L208.54,508.56 L215.68,508.59 L222.81,508.35 L229.94,508.17 L237.07,508.34 L244.20,508.41 L251.34,507.91 L258.47,507.71 L265.60,507.81" fill="none" stroke="#111" stroke-width="1.0"/>
<path d="M87.30,509.40 L151.49,509.20 L158.62,509.08 L165.75,509.06 L172.88,508.60 L180.02,508.78 L187.15,508.57 L194.28,508.26 L201.41,507.91 L208.54,508.19 L215.68,507.62 L222.81,507.75 L229.94,507.23 L237.07,507.05 L244.20,507.20 L251.34,506.74 L258.47,506.96 L265.60,506.52" fill="none" stroke="#111" stroke-width="1.0"/>
<path d="M87.30,509.40 L151.49,509.20 L158.62,508.85 L165.75,508.61 L172.88,508.47 L180.02,508.36 L187.15,508.27 L194.28,507.52 L201.41,507.41 L208.54,507.04 L215.68,507.24 L222.81,506.48 L229.94,506.16 L237.07,505.91 L244.20,505.85 L251.34,505.89 L258.47,505.62 L265.60,505.27" fill="none" stroke="#111" stroke-width="1.0"/>
<path d="M87.30,509.40 L158.62,509.20 L165.75,509.23 L172.88,508.82 L180.02,508.09 L187.15,507.63 L194.28,507.71 L201.41,507.22 L208.54,506.42 L215.68,506.43 L222.81,505.89 L229.94,505.52 L237.07,505.12 L244.20,504.65 L251.34,504.18 L258.47,503.98 L265.60,503.65" fill="none" stroke="#111" stroke-width="1.0"/>
<path d="M87.30,509.40 L165.75,509.20 L172.88,509.14 L180.02,508.20 L187.15,508.27 L194.28,507.38 L201.41,507.03 L208.54,506.87 L215.68,506.43 L222.81,505.76 L229.94,505.10 L237.07,504.91 L244.20,504.42 L251.34,504.31 L258.47,503.43 L265.60,503.10" fill="none" stroke="#111" stroke-width="1.0"/>
<path d="M87.30,509.40 L158.62,509.20 L165.75,509.06 L172.88,508.05 L180.02,507.80 L187.15,507.56 L194.28,507.05 L201.41,506.13 L208.54,505.65 L215.68,505.18 L222.81,505.21 L229.94,504.33 L237.07,504.15 L244.20,503.75 L251.34,502.94 L258.47,502.41 L265.60,502.34" fill="none" stroke="#111" stroke-width="1.0"/>
<path d="M87.30,509.40 L172.88,509.20 L180.02,508.73 L187.15,507.87 L194.28,507.50 L201.41,506.62 L208.54,505.96 L215.68,505.15 L222.81,504.96 L229.94,504.42 L237.07,503.60 L244.20,503.15 L251.34,501.96 L258.47,501.44 L265.60,500.94" fill="none" stroke="#111" stroke-width="1.0"/>
<path d="M87.30,509.40 L187.15,509.20 L194.28,509.27 L201.41,508.97 L208.54,508.32 L215.68,507.94 L222.81,507.74 L229.94,507.48 L237.07,507.43 L244.20,506.68 L251.34,506.75 L258.47,506.41 L265.60,506.16" fill="none" stroke="#111" stroke-width="1.0"/>
<path d="M87.30,509.40 L180.02,509.20 L187.15,509.05 L194.28,508.53 L201.41,507.95 L208.54,507.52 L215.68,507.13 L222.81,506.97 L229.94,506.13 L237.07,505.78 L244.20,505.70 L251.34,504.98 L258.47,504.45 L265.60,504.01" fill="none" stroke="#111" stroke-width="1.0"/>
<path d="M140,509 L150,507.8 L175,506.4 L200,505.0 L230,503.5 L256,502.3 L265.6,501.9 L265.6,510.3 L140,510.3 Z" fill="#111" fill-opacity="0.78"/>
<path d="M140.00,508.30 C141.9,508.2 148.7,508.2 151.6,507.8 C154.5,507.4 155.6,506.4 157.4,505.6 C159.2,504.8 160.3,503.8 162.2,503.1 C164.1,502.5 166.2,502.2 168.9,501.7 C171.6,501.2 175.4,500.6 178.6,500.3 C181.8,500.0 185.0,500.0 188.2,499.8 C191.4,499.6 195.1,499.4 197.9,499.3 C200.7,499.2 202.9,499.3 205.0,499.3 C207.1,499.3 207.8,499.8 210.4,499.4 C213.0,499.0 217.3,498.1 220.8,497.1 C224.3,496.1 227.8,494.4 231.2,493.5 C234.6,492.6 238.2,492.3 241.5,491.4 C244.8,490.5 249.3,488.8 250.9,488.3" fill="none" stroke="#111" stroke-width="1.6"/>
<path d="M175.00,508.00 C176.9,507.6 183.6,506.3 186.3,505.6 C189.0,504.9 189.2,504.1 191.1,503.6 C193.0,503.1 195.6,503.0 197.9,502.7 C200.2,502.4 202.9,502.1 205.0,501.7 C207.1,501.3 207.8,501.0 210.4,500.3 C213.0,499.6 217.9,498.4 220.8,497.6 C223.7,496.8 225.8,496.2 228.0,495.5 C230.2,494.8 232.1,493.9 234.3,493.3 C236.6,492.7 238.7,492.6 241.5,491.8 C244.3,491.0 249.3,489.1 250.9,488.6" fill="none" stroke="#111" stroke-width="1.6"/>
<path d="M230.00,505.50 C232.5,505.1 241.0,503.9 245.0,503.4 C249.0,502.8 252.1,502.7 254.0,502.2 C255.9,501.7 255.8,501.0 256.5,500.5 C257.2,500.0 256.7,499.5 258.2,499.2 C259.7,498.9 264.2,498.8 265.4,498.7" fill="none" stroke="#111" stroke-width="1.6"/>
<path d="M87.5,507.2 H152" stroke="#111" stroke-width="1.8" stroke-dasharray="3.3 4"/>
<path d="M300.5,508.3 L478.4,508.3 L478.4,510.9 L300.5,510.9 Z" fill="#3d52b0"/>
<path d="M300.5,507.2 L360,506.9 L400,506.3 L440,505.6 L478.4,504.9" fill="none" stroke="#3d52b0" stroke-width="1.5"/>
<path d="M380,506.2 L420,506.0 L478.4,505.9" fill="none" stroke="#3d52b0" stroke-width="1.2"/>
<path d="M395.00,505.50 C396.8,505.5 403.5,505.6 405.9,505.3 C408.3,505.0 408.5,504.0 409.5,503.5 C410.5,503.0 409.5,502.7 411.9,502.3 C414.3,501.9 420.1,501.5 423.7,501.1 C427.2,500.7 430.0,500.4 433.2,499.9 C436.4,499.4 439.9,498.8 442.7,498.1 C445.5,497.4 447.5,496.7 449.9,495.8 C452.3,494.9 454.6,493.7 457.0,492.8 C459.4,491.9 461.7,491.2 464.1,490.4 C466.5,489.6 468.8,488.8 471.2,488.1 C473.6,487.4 477.1,486.6 478.3,486.3" fill="none" stroke="#3d52b0" stroke-width="1.4" stroke-linejoin="round"/>
<path d="M400.00,505.50 C402.0,505.2 408.1,504.4 412.0,504.0 C415.9,503.6 419.8,503.3 423.7,502.9 C427.6,502.5 431.6,502.2 435.6,501.7 C439.6,501.2 443.9,500.5 447.5,499.9 C451.1,499.3 454.2,498.6 457.0,498.1 C459.8,497.6 461.7,497.6 464.1,497.0 C466.5,496.4 468.8,495.2 471.2,494.6 C473.6,494.0 477.1,493.6 478.3,493.4" fill="none" stroke="#3d52b0" stroke-width="1.4" stroke-linejoin="round"/>
<path d="M405.00,505.50 C409.2,505.2 422.5,504.1 430.0,503.5 C437.5,502.9 443.9,502.6 450.0,502.0 C456.1,501.4 461.8,500.4 466.5,499.9 C471.2,499.3 476.3,498.9 478.3,498.7" fill="none" stroke="#3d52b0" stroke-width="1.4" stroke-linejoin="round"/>
<path d="M410.00,505.50 C415.0,505.2 431.7,504.4 440.0,503.8 C448.3,503.2 453.6,502.7 460.0,502.2 C466.4,501.7 475.2,500.9 478.3,500.6" fill="none" stroke="#3d52b0" stroke-width="1.4" stroke-linejoin="round"/>
<path d="M415.00,505.50 C420.0,505.3 436.7,504.7 445.0,504.3 C453.3,503.9 459.4,503.4 465.0,503.0 C470.6,502.6 476.1,502.2 478.3,502.0" fill="none" stroke="#3d52b0" stroke-width="1.4" stroke-linejoin="round"/>
<path d="M420.00,505.50 C425.0,505.4 440.3,505.2 450.0,504.8 C459.7,504.4 473.6,503.6 478.3,503.4" fill="none" stroke="#3d52b0" stroke-width="1.4" stroke-linejoin="round"/>
<path d="M300.50,508.50 C301.2,508.4 303.3,508.0 305.0,507.6 C306.7,507.2 309.2,506.9 310.8,506.3 C312.4,505.7 313.2,504.6 314.5,504.2 C315.8,503.8 316.8,503.8 318.3,503.7 C319.8,503.6 322.1,503.6 323.6,503.3 C325.1,503.0 326.2,503.1 327.1,502.0 C328.1,500.9 328.5,498.8 329.3,497.0 C330.1,495.2 330.9,493.4 332.1,491.3 C333.3,489.2 335.0,486.6 336.4,484.2 C337.8,481.8 339.3,479.6 340.7,477.0 C342.1,474.4 343.7,471.1 344.9,468.5 C346.1,465.9 346.6,463.8 347.8,461.4 C349.0,459.0 350.3,456.8 352.0,454.2 C353.7,451.6 356.1,448.3 357.8,445.7 C359.5,443.1 360.6,441.0 362.0,438.6 C363.4,436.2 365.3,434.0 366.5,431.5 C367.7,429.0 368.4,426.3 369.1,423.8 C369.8,421.3 370.2,418.6 370.6,416.5 C371.0,414.4 371.2,413.1 371.7,411.3 C372.2,409.6 373.1,407.6 373.8,406.0 C374.5,404.4 375.3,403.6 375.8,401.9 C376.3,400.2 376.4,398.4 376.9,395.6 C377.3,392.8 377.8,388.1 378.5,385.0 C379.2,381.9 380.2,379.6 381.0,377.0 C381.8,374.4 382.6,372.0 383.4,369.7 C384.2,367.4 385.4,364.4 385.8,363.4" fill="none" stroke="#3d52b0" stroke-width="1.55" stroke-linejoin="round"/>
<path d="M300.50,508.80 C301.4,508.6 303.8,508.2 306.0,507.8 C308.2,507.4 311.8,506.7 313.8,506.3 C315.9,505.9 315.6,505.7 318.3,505.5 C321.0,505.3 326.4,505.4 330.0,505.3 C333.6,505.2 337.8,505.2 340.0,505.0 C342.2,504.8 342.6,504.5 343.5,504.1 C344.4,503.7 344.9,503.6 345.6,502.7 C346.3,501.8 347.1,500.5 347.8,498.4 C348.5,496.3 349.1,492.8 349.9,489.9 C350.7,487.0 351.9,484.4 352.8,481.3 C353.8,478.2 354.8,474.4 355.6,471.3 C356.4,468.2 357.1,465.4 357.8,462.8 C358.5,460.2 358.9,458.3 359.9,455.7 C360.8,453.1 362.4,450.0 363.5,447.1 C364.6,444.2 365.5,441.5 366.3,438.6 C367.1,435.8 367.6,432.3 368.5,430.0 C369.4,427.7 370.6,426.7 371.7,424.8 C372.8,422.9 373.8,420.9 374.8,418.5 C375.8,416.1 376.9,412.6 377.9,410.2 C378.9,407.8 379.9,406.1 381.0,404.0 C382.1,401.9 383.1,399.8 384.2,397.7 C385.2,395.6 386.4,393.6 387.3,391.5 C388.2,389.4 388.8,387.2 389.5,385.0 C390.2,382.8 390.6,380.9 391.3,378.3 C392.0,375.8 392.8,372.8 393.7,369.7 C394.6,366.6 395.9,363.2 396.8,360.0 C397.7,356.8 398.4,353.3 399.2,350.3 C400.0,347.3 400.8,344.4 401.6,341.8 C402.4,339.2 403.1,337.3 404.1,334.5 C405.1,331.7 406.9,326.6 407.5,325.0" fill="none" stroke="#3d52b0" stroke-width="1.55" stroke-linejoin="round"/>
<path d="M318.30,503.70 C320.2,503.5 325.4,502.8 330.0,502.6 C334.6,502.4 342.4,502.5 346.0,502.5 C349.6,502.5 349.9,502.7 351.9,502.6 C353.9,502.5 356.3,502.5 357.8,502.1 C359.3,501.7 359.8,501.5 360.8,500.4 C361.8,499.3 362.6,497.0 363.7,495.6 C364.8,494.2 365.3,493.4 367.3,492.0 C369.3,490.6 373.5,488.7 375.6,487.3 C377.7,485.9 378.4,485.0 380.0,483.5 C381.6,482.0 383.0,480.2 385.0,478.5 C387.0,476.8 389.2,475.6 392.0,473.5 C394.8,471.4 399.3,468.2 401.7,465.9 C404.1,463.6 404.9,461.3 406.5,459.5 C408.1,457.7 409.5,456.6 411.0,455.0 C412.5,453.4 413.8,452.1 415.6,449.7 C417.4,447.2 419.8,443.4 421.9,440.3 C424.0,437.2 426.0,433.8 428.1,430.9 C430.2,428.0 432.6,426.0 434.4,423.1 C436.2,420.2 437.8,416.9 439.1,413.8 C440.4,410.6 441.3,407.5 442.2,404.4 C443.1,401.3 443.9,396.9 444.5,395.0 C445.1,393.1 445.2,394.5 445.8,392.8 C446.4,391.1 447.5,387.3 448.1,385.0 C448.8,382.7 448.9,380.6 449.7,378.8 C450.5,376.9 451.6,376.1 452.8,374.0 C454.0,371.9 455.8,368.6 456.7,366.2 C457.6,363.9 457.5,362.1 458.3,360.0 C459.1,357.9 460.4,355.8 461.4,353.8 C462.4,351.7 463.7,349.8 464.5,347.5 C465.3,345.2 465.5,342.3 466.1,339.7 C466.8,337.1 467.5,334.5 468.4,331.9 C469.3,329.3 470.5,326.5 471.6,324.0 C472.7,321.5 474.4,318.2 475.0,317.0" fill="none" stroke="#3d52b0" stroke-width="1.55" stroke-linejoin="round"/>
<path d="M350.00,506.20 C355.8,506.1 377.8,505.9 385.0,505.6 C392.2,505.3 391.4,505.2 393.4,504.5 C395.4,503.8 395.9,502.3 397.0,501.5 C398.1,500.7 398.8,500.7 400.0,499.9 C401.2,499.1 402.8,497.9 404.1,496.8 C405.4,495.7 406.7,494.6 408.0,493.5 C409.3,492.4 410.7,492.1 411.9,490.4 C413.1,488.7 414.3,485.2 415.4,483.3 C416.5,481.4 417.5,480.4 418.5,479.0 C419.5,477.6 420.6,476.2 421.4,475.0 C422.2,473.8 422.3,473.7 423.4,471.6 C424.5,469.5 426.7,465.3 428.1,462.2 C429.5,459.1 430.8,455.9 432.0,452.8 C433.2,449.7 434.3,446.5 435.2,443.4 C436.1,440.3 436.3,437.0 437.5,434.1 C438.7,431.2 440.4,429.4 442.2,426.2 C444.0,423.1 446.6,418.9 448.4,415.3 C450.2,411.7 452.0,406.9 453.1,404.4 C454.2,401.8 454.3,401.9 455.2,400.0 C456.1,398.1 457.3,395.3 458.3,392.8 C459.3,390.3 460.5,387.6 461.4,385.0 C462.3,382.4 462.8,379.4 463.8,377.2 C464.7,375.0 465.9,373.3 466.9,371.7 C467.9,370.1 468.6,369.5 470.0,367.8 C471.4,366.1 474.2,362.6 475.0,361.6" fill="none" stroke="#3d52b0" stroke-width="1.55" stroke-linejoin="round"/>
<path d="M346.00,502.60 C347.5,502.6 352.4,502.6 355.0,502.4 C357.6,502.2 359.3,502.0 361.4,501.5 C363.4,501.0 365.3,500.0 367.3,499.2 C369.3,498.4 371.2,497.7 373.2,496.8 C375.2,495.9 377.2,494.8 379.2,493.8 C381.2,492.8 383.1,492.0 385.1,490.9 C387.1,489.8 389.4,488.7 391.0,487.3 C392.6,485.9 393.6,484.4 394.6,482.6 C395.6,480.8 395.8,478.4 397.0,476.6 C398.2,474.8 399.3,473.1 401.7,471.9 C404.1,470.7 408.2,470.0 411.2,469.5 C414.2,469.0 416.6,469.2 419.5,468.9 C422.4,468.6 426.8,469.1 428.9,467.7 C431.0,466.3 430.8,463.1 432.0,460.6 C433.2,458.1 434.7,455.4 435.9,452.8 C437.1,450.2 437.8,447.1 439.0,445.0 C440.2,442.9 442.3,441.1 443.0,440.3" fill="none" stroke="#3d52b0" stroke-width="1.55" stroke-linejoin="round"/>
<path d="M352.00,502.60 C353.0,502.4 356.1,502.1 358.0,501.5 C359.9,500.9 361.9,499.9 363.7,499.2 C365.4,498.5 366.5,498.2 368.5,497.4 C370.5,496.6 373.4,495.2 375.6,494.4 C377.8,493.6 379.1,493.4 381.5,492.6 C383.9,491.8 387.3,491.0 389.9,489.7 C392.5,488.4 394.6,486.5 397.0,484.9 C399.4,483.3 402.1,481.8 404.1,480.2 C406.1,478.6 407.2,477.0 408.8,475.4 C410.4,473.8 411.8,471.8 413.6,470.7 C415.4,469.6 418.5,469.2 419.5,468.9" fill="none" stroke="#3d52b0" stroke-width="1.55" stroke-linejoin="round"/>
<path d="M395,507.6 H478.4" stroke="#fff" stroke-width="1.3" stroke-opacity="0.85"/>
<path d="M300.6,507.6 H478.4" stroke="#111" stroke-width="1.7" stroke-dasharray="3.4 4.0"/>
<text x="502.4" y="252.2" font-size="24" fill="#000" text-anchor="start" font-weight="bold" >c</text>
<path d="M588.5,266.30 V525.90" stroke="#111" stroke-width="1.6" fill="none"/>
<path d="M581.5,525.90 H588.5" stroke="#111" stroke-width="1.6"/>
<text x="576.8" y="530.90" font-size="17.3" fill="#000" text-anchor="end" font-weight="normal" >0</text>
<path d="M581.5,461.00 H588.5" stroke="#111" stroke-width="1.6"/>
<text x="576.8" y="466.00" font-size="17.3" fill="#000" text-anchor="end" font-weight="normal" >20</text>
<path d="M581.5,396.10 H588.5" stroke="#111" stroke-width="1.6"/>
<text x="576.8" y="401.10" font-size="17.3" fill="#000" text-anchor="end" font-weight="normal" >40</text>
<path d="M581.5,331.20 H588.5" stroke="#111" stroke-width="1.6"/>
<text x="576.8" y="336.20" font-size="17.3" fill="#000" text-anchor="end" font-weight="normal" >60</text>
<path d="M581.5,266.30 H588.5" stroke="#111" stroke-width="1.6"/>
<text x="576.8" y="271.30" font-size="17.3" fill="#000" text-anchor="end" font-weight="normal" >80</text>
<text transform="translate(544.6,394) rotate(-90)" font-size="17.3" text-anchor="middle">Time to reach 100 mEPSCs (min)</text>
<text x="601.0" y="272.6" font-size="17.3" fill="#3131a8" text-anchor="start" font-weight="normal" >*p=0.02</text>
<path d="M607,294.8 V283.8 H658.8 V341.7" fill="none" stroke="#111" stroke-width="1.8"/>
<path d="M608.0,309.13 V378.90 M608.0,480.79 V490.69" stroke="#555" stroke-width="1.2"/>
<rect x="593.6" y="378.90" width="29.6" height="101.89" fill="none" stroke="#222" stroke-width="1.4"/>
<path d="M593.6,473.66 H623.2" stroke="#222" stroke-width="1.4"/>
<path d="M597,309.13 H619.3 M597,490.69 H619.3" stroke="#222" stroke-width="1.4"/>
<circle cx="608.0" cy="309.13" r="5.4" fill="none" stroke="#222" stroke-width="1.15"/>
<circle cx="608.0" cy="350.99" r="5.4" fill="none" stroke="#222" stroke-width="1.15"/>
<circle cx="608.0" cy="404.54" r="5.4" fill="none" stroke="#222" stroke-width="1.15"/>
<circle cx="608.0" cy="465.87" r="5.4" fill="none" stroke="#222" stroke-width="1.15"/>
<circle cx="608.0" cy="472.36" r="5.4" fill="none" stroke="#222" stroke-width="1.15"/>
<circle cx="602.5" cy="477.71" r="5.4" fill="none" stroke="#222" stroke-width="1.15"/>
<circle cx="613.5" cy="477.71" r="5.4" fill="none" stroke="#222" stroke-width="1.15"/>
<circle cx="608.0" cy="477.71" r="5.4" fill="none" stroke="#222" stroke-width="1.15"/>
<circle cx="608.0" cy="480.79" r="5.4" fill="none" stroke="#222" stroke-width="1.15"/>
<circle cx="608.0" cy="485.34" r="5.4" fill="none" stroke="#222" stroke-width="1.15"/>
<circle cx="608.0" cy="489.56" r="5.4" fill="none" stroke="#222" stroke-width="1.15"/>
<path d="M657.8,350.99 V522.01" stroke="#3a3aa6" stroke-width="1.1" stroke-opacity="0.8"/>
<rect x="642.9" y="478.52" width="30.0" height="28.23" fill="none" stroke="#3a3aa6" stroke-width="1.4"/>
<path d="M642.9,489.23 H672.9" stroke="#3a3aa6" stroke-width="1.4"/>
<path d="M646.5,350.99 H669.4 M647.5,522.01 H668.3" stroke="#3a3aa6" stroke-width="1.4"/>
<circle cx="657.8" cy="350.99" r="5.3" fill="none" stroke="#3a3aa6" stroke-width="1.15"/>
<circle cx="657.8" cy="443.15" r="5.3" fill="none" stroke="#3a3aa6" stroke-width="1.15"/>
<circle cx="657.8" cy="454.51" r="5.3" fill="none" stroke="#3a3aa6" stroke-width="1.15"/>
<circle cx="657.8" cy="477.22" r="5.3" fill="none" stroke="#3a3aa6" stroke-width="1.15"/>
<circle cx="651.8" cy="482.42" r="5.3" fill="none" stroke="#3a3aa6" stroke-width="1.15"/>
<circle cx="663.8" cy="482.42" r="5.3" fill="none" stroke="#3a3aa6" stroke-width="1.15"/>
<circle cx="657.8" cy="484.36" r="5.3" fill="none" stroke="#3a3aa6" stroke-width="1.15"/>
<circle cx="657.8" cy="489.23" r="5.3" fill="none" stroke="#3a3aa6" stroke-width="1.15"/>
<circle cx="651.8" cy="491.83" r="5.3" fill="none" stroke="#3a3aa6" stroke-width="1.15"/>
<circle cx="663.8" cy="491.83" r="5.3" fill="none" stroke="#3a3aa6" stroke-width="1.15"/>
<circle cx="657.8" cy="492.80" r="5.3" fill="none" stroke="#3a3aa6" stroke-width="1.15"/>
<circle cx="657.8" cy="495.72" r="5.3" fill="none" stroke="#3a3aa6" stroke-width="1.15"/>
<circle cx="657.8" cy="503.51" r="5.3" fill="none" stroke="#3a3aa6" stroke-width="1.15"/>
<circle cx="657.8" cy="508.05" r="5.3" fill="none" stroke="#3a3aa6" stroke-width="1.15"/>
<circle cx="657.8" cy="510.97" r="5.3" fill="none" stroke="#3a3aa6" stroke-width="1.15"/>
<circle cx="652.5" cy="519.73" r="5.3" fill="none" stroke="#3a3aa6" stroke-width="1.15"/>
<circle cx="663.0999999999999" cy="519.73" r="5.3" fill="none" stroke="#3a3aa6" stroke-width="1.15"/>
<text transform="translate(591.0,563.3) rotate(-45)" font-size="17.3">Denat</text>
<text transform="translate(634.8,570.5) rotate(-45)" font-size="17.3" fill="#3131a8">Stath</text>
<circle cx="664.8" cy="540.4" r="0.9" fill="#2a9a4a"/>
</svg>
</body></html>
